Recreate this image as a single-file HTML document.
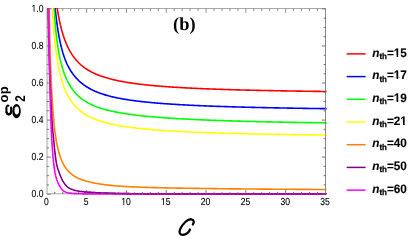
<!DOCTYPE html><html><head><meta charset="utf-8"><style>html,body{margin:0;padding:0;background:#fff}</style></head><body><div style="will-change:transform;width:415px;height:245px"><svg width="415" height="245" viewBox="0 0 415 245" style="display:block" text-rendering="geometricPrecision"><rect width="415" height="245" fill="#fff" stroke="none"/><defs><clipPath id="cp"><rect x="46.75" y="8.00" width="280.05" height="187.20"/></clipPath><clipPath id="cp2"><rect x="84" y="180" width="250" height="20"/></clipPath></defs><rect x="47.05" y="8.60" width="278.45" height="185.20" fill="none" stroke="#999" stroke-width="0.85"/><g clip-path="url(#cp)" fill="none" stroke-linejoin="round"><path d="M51.76,-46.19 L51.82,-45.25 L51.87,-44.33 L51.93,-43.42 L51.99,-42.53 L52.05,-41.64 L52.11,-40.76 L52.17,-39.89 L52.23,-39.04 L52.29,-38.19 L52.35,-37.36 L52.41,-36.53 L52.47,-35.71 L52.53,-34.91 L52.59,-34.11 L52.65,-33.32 L52.71,-32.54 L52.77,-31.77 L52.83,-31.01 L52.89,-30.25 L52.94,-29.51 L53.00,-28.77 L53.06,-28.04 L53.12,-27.32 L53.18,-26.61 L53.24,-25.90 L53.30,-25.21 L53.36,-24.52 L53.42,-23.83 L53.48,-23.16 L53.54,-22.49 L53.60,-21.83 L53.66,-21.17 L53.72,-20.53 L53.78,-19.89 L53.84,-19.25 L53.90,-18.63 L53.96,-18.00 L54.01,-17.39 L54.07,-16.78 L54.13,-16.18 L54.19,-15.58 L54.25,-14.99 L54.31,-14.41 L54.37,-13.83 L54.43,-13.26 L54.49,-12.69 L54.55,-12.13 L54.61,-11.57 L54.67,-11.02 L54.73,-10.48 L54.79,-9.93 L54.85,-9.40 L54.91,-8.87 L54.97,-8.34 L55.03,-7.82 L55.09,-7.31 L55.14,-6.80 L55.20,-6.29 L55.26,-5.79 L55.32,-5.30 L55.38,-4.80 L55.44,-4.32 L55.50,-3.84 L55.56,-3.36 L55.62,-2.88 L55.68,-2.41 L55.74,-1.95 L55.80,-1.49 L55.86,-1.03 L55.92,-0.58 L55.98,-0.13 L56.04,0.32 L56.10,0.76 L56.16,1.20 L56.21,1.63 L56.27,2.06 L56.33,2.49 L56.39,2.91 L56.45,3.33 L56.51,3.74 L56.57,4.16 L56.63,4.57 L56.69,4.97 L56.75,5.37 L56.81,5.77 L56.87,6.16 L56.93,6.56 L56.99,6.95 L57.05,7.33 L57.11,7.71 L57.17,8.09 L57.23,8.47 L57.28,8.84 L57.34,9.21 L57.40,9.58 L57.46,9.94 L57.52,10.30 L57.58,10.66 L57.64,11.02 L57.70,11.37 L57.76,11.72 L57.82,12.06 L57.88,12.41 L57.94,12.75 L58.00,13.09 L58.06,13.43 L58.12,13.76 L58.18,14.09 L58.24,14.42 L58.30,14.75 L58.35,15.07 L58.41,15.39 L58.47,15.71 L58.53,16.03 L58.59,16.34 L58.65,16.65 L58.71,16.96 L58.77,17.27 L58.83,17.57 L58.89,17.88 L58.95,18.18 L59.01,18.48 L59.07,18.77 L59.13,19.07 L59.19,19.36 L59.25,19.65 L59.31,19.94 L59.37,20.22 L59.42,20.50 L59.48,20.79 L59.54,21.07 L59.60,21.34 L59.66,21.62 L59.72,21.89 L59.78,22.16 L59.84,22.43 L59.90,22.70 L59.96,22.97 L60.02,23.23 L60.08,23.49 L60.14,23.76 L60.20,24.01 L60.26,24.27 L60.32,24.53 L60.38,24.78 L60.44,25.03 L60.50,25.28 L60.55,25.53 L60.61,25.78 L60.67,26.02 L60.73,26.27 L60.79,26.51 L60.85,26.75 L60.91,26.99 L60.97,27.23 L61.03,27.46 L61.09,27.70 L61.15,27.93 L61.21,28.16 L61.27,28.39 L61.33,28.62 L61.39,28.84 L61.45,29.07 L61.51,29.29 L61.57,29.52 L61.62,29.74 L61.68,29.96 L61.74,30.18 L61.80,30.39 L61.86,30.61 L61.92,30.82 L61.98,31.03 L62.04,31.25 L62.10,31.46 L62.16,31.67 L62.22,31.87 L62.28,32.08 L62.34,32.28 L62.40,32.49 L62.46,32.69 L62.52,32.89 L62.58,33.09 L62.64,33.29 L62.69,33.49 L62.75,33.68 L62.81,33.88 L62.87,34.07 L62.93,34.27 L62.99,34.46 L63.05,34.65 L63.11,34.84 L63.17,35.03 L63.22,35.22 L63.28,35.40 L63.34,35.59 L63.40,35.77 L63.46,35.95 L63.52,36.14 L63.58,36.32 L63.64,36.50 L63.69,36.68 L63.75,36.85 L63.81,37.03 L63.87,37.21 L63.93,37.38 L63.99,37.55 L64.05,37.73 L64.11,37.90 L64.16,38.07 L64.22,38.24 L64.28,38.41 L64.34,38.58 L64.40,38.74 L64.46,38.91 L64.52,39.08 L64.58,39.24 L64.63,39.40 L64.69,39.57 L64.75,39.73 L64.81,39.89 L64.87,40.05 L64.93,40.21 L64.99,40.36 L65.05,40.52 L65.10,40.68 L65.16,40.83 L65.22,40.99 L65.28,41.14 L65.34,41.30 L65.40,41.45 L65.46,41.60 L65.52,41.75 L65.57,41.90 L65.63,42.05 L65.69,42.20 L65.75,42.34 L65.81,42.49 L65.87,42.64 L65.93,42.78 L65.99,42.93 L66.05,43.07 L66.10,43.21 L66.16,43.35 L66.22,43.50 L66.28,43.64 L66.34,43.78 L66.40,43.92 L66.46,44.05 L66.52,44.19 L66.58,44.33 L66.63,44.47 L66.69,44.60 L66.75,44.74 L66.81,44.87 L66.87,45.01 L66.93,45.14 L66.99,45.27 L67.05,45.40 L67.11,45.53 L67.16,45.66 L67.22,45.79 L67.28,45.92 L67.34,46.05 L67.40,46.18 L67.46,46.31 L67.52,46.43 L67.58,46.56 L67.64,46.68 L67.69,46.81 L67.75,46.93 L67.81,47.06 L67.87,47.18 L67.93,47.30 L67.99,47.42 L68.05,47.55 L68.11,47.67 L68.17,47.79 L68.23,47.91 L68.28,48.02 L68.34,48.14 L68.40,48.26 L68.46,48.38 L68.52,48.49 L68.58,48.61 L68.64,48.73 L68.70,48.84 L68.76,48.96 L68.81,49.07 L68.87,49.18 L68.93,49.30 L68.99,49.41 L69.05,49.52 L69.11,49.63 L69.17,49.74 L69.23,49.85 L69.29,49.96 L69.35,50.07 L69.40,50.18 L69.46,50.29 L69.52,50.40 L69.58,50.50 L69.64,50.61 L69.70,50.72 L69.76,50.82 L69.82,50.93 L69.88,51.03 L69.94,51.14 L69.99,51.24 L70.05,51.34 L70.11,51.45 L70.17,51.55 L70.23,51.65 L70.29,51.75 L70.35,51.86 L70.41,51.96 L70.47,52.06 L70.53,52.16 L70.59,52.26 L70.64,52.35 L70.70,52.45 L71.55,53.83 L72.41,55.12 L73.26,56.34 L74.11,57.49 L74.96,58.58 L75.80,59.61 L76.64,60.58 L77.48,61.51 L78.32,62.39 L79.17,63.23 L80.01,64.02 L80.85,64.79 L81.70,65.51 L82.54,66.20 L83.39,66.87 L84.24,67.50 L85.08,68.11 L85.93,68.69 L86.78,69.25 L87.63,69.79 L88.48,70.31 L89.34,70.80 L90.20,71.28 L91.05,71.74 L91.91,72.18 L92.77,72.61 L93.63,73.02 L94.48,73.42 L95.34,73.81 L96.20,74.18 L97.05,74.54 L97.91,74.89 L98.77,75.22 L99.63,75.55 L100.48,75.87 L101.34,76.17 L102.20,76.47 L103.05,76.76 L103.91,77.04 L104.77,77.31 L105.63,77.57 L106.48,77.83 L107.34,78.08 L108.20,78.32 L109.06,78.56 L109.91,78.79 L110.77,79.01 L111.63,79.23 L112.48,79.44 L113.34,79.65 L114.20,79.85 L115.06,80.05 L115.91,80.24 L116.77,80.43 L117.63,80.61 L118.48,80.79 L119.34,80.96 L120.20,81.13 L121.06,81.30 L121.91,81.46 L122.77,81.62 L123.63,81.77 L124.49,81.92 L125.34,82.07 L126.20,82.22 L127.06,82.36 L127.91,82.50 L128.77,82.63 L129.63,82.77 L130.49,82.90 L131.34,83.02 L132.20,83.15 L133.06,83.27 L133.92,83.39 L134.77,83.51 L135.63,83.62 L136.49,83.74 L137.34,83.85 L138.20,83.96 L139.06,84.06 L139.92,84.17 L140.77,84.27 L141.63,84.37 L142.49,84.47 L143.34,84.57 L144.20,84.67 L145.06,84.76 L145.92,84.85 L146.77,84.94 L147.63,85.03 L148.49,85.12 L149.35,85.21 L150.20,85.29 L151.06,85.37 L151.92,85.46 L152.77,85.54 L153.63,85.62 L154.49,85.69 L155.35,85.77 L156.20,85.85 L157.06,85.92 L157.92,85.99 L158.77,86.07 L159.63,86.14 L160.49,86.21 L161.35,86.27 L162.20,86.34 L163.06,86.41 L163.92,86.47 L164.78,86.54 L165.63,86.60 L166.49,86.67 L167.35,86.73 L168.20,86.79 L169.06,86.85 L169.92,86.91 L170.78,86.97 L171.63,87.02 L172.49,87.08 L173.35,87.14 L174.20,87.19 L175.06,87.24 L175.92,87.30 L176.78,87.35 L177.63,87.40 L178.49,87.46 L179.35,87.51 L180.21,87.56 L181.06,87.61 L181.92,87.65 L182.78,87.70 L183.63,87.75 L184.49,87.80 L185.35,87.84 L186.21,87.89 L187.06,87.93 L187.92,87.98 L188.78,88.02 L189.64,88.07 L190.49,88.11 L191.35,88.15 L192.21,88.19 L193.06,88.23 L193.92,88.28 L194.78,88.32 L195.64,88.36 L196.49,88.40 L197.35,88.43 L198.21,88.47 L199.06,88.51 L199.92,88.55 L200.78,88.59 L201.64,88.62 L202.49,88.66 L203.35,88.70 L204.21,88.73 L205.07,88.77 L205.92,88.80 L206.78,88.84 L207.64,88.87 L208.49,88.90 L209.35,88.94 L210.21,88.97 L211.07,89.00 L211.92,89.03 L212.78,89.07 L213.64,89.10 L214.49,89.13 L215.35,89.16 L216.21,89.19 L217.07,89.22 L217.92,89.25 L218.78,89.28 L219.64,89.31 L220.50,89.34 L221.35,89.37 L222.21,89.39 L223.07,89.42 L223.92,89.45 L224.78,89.48 L225.64,89.50 L226.50,89.53 L227.35,89.56 L228.21,89.58 L229.07,89.61 L229.92,89.64 L230.78,89.66 L231.64,89.69 L232.50,89.71 L233.35,89.74 L234.21,89.76 L235.07,89.79 L235.93,89.81 L236.78,89.84 L237.64,89.86 L238.50,89.88 L239.35,89.91 L240.21,89.93 L241.07,89.95 L241.93,89.97 L242.78,90.00 L243.64,90.02 L244.50,90.04 L245.36,90.06 L246.21,90.09 L247.07,90.11 L247.93,90.13 L248.78,90.15 L249.64,90.17 L250.50,90.19 L251.36,90.21 L252.21,90.23 L253.07,90.25 L253.93,90.27 L254.78,90.29 L255.64,90.31 L256.50,90.33 L257.36,90.35 L258.21,90.37 L259.07,90.39 L259.93,90.41 L260.79,90.43 L261.64,90.44 L262.50,90.46 L263.36,90.48 L264.21,90.50 L265.07,90.52 L265.93,90.54 L266.79,90.55 L267.64,90.57 L268.50,90.59 L269.36,90.60 L270.21,90.62 L271.07,90.64 L271.93,90.66 L272.79,90.67 L273.64,90.69 L274.50,90.71 L275.36,90.72 L276.22,90.74 L277.07,90.75 L277.93,90.77 L278.79,90.79 L279.64,90.80 L280.50,90.82 L281.36,90.83 L282.22,90.85 L283.07,90.86 L283.93,90.88 L284.79,90.89 L285.64,90.91 L286.50,90.92 L287.36,90.94 L288.22,90.95 L289.07,90.97 L289.93,90.98 L290.79,90.99 L291.65,91.01 L292.50,91.02 L293.36,91.04 L294.22,91.05 L295.07,91.06 L295.93,91.08 L296.79,91.09 L297.65,91.10 L298.50,91.12 L299.36,91.13 L300.22,91.14 L301.08,91.16 L301.93,91.17 L302.79,91.18 L303.65,91.20 L304.50,91.21 L305.36,91.22 L306.22,91.23 L307.08,91.25 L307.93,91.26 L308.79,91.27 L309.65,91.28 L310.50,91.29 L311.36,91.31 L312.22,91.32 L313.08,91.33 L313.93,91.34 L314.79,91.35 L315.65,91.36 L316.51,91.38 L317.36,91.39 L318.22,91.40 L319.08,91.41 L319.93,91.42 L320.79,91.43 L321.65,91.44 L322.51,91.45 L323.36,91.47 L324.22,91.48 L325.08,91.49 L325.93,91.50 L326.79,91.51" stroke="#ff0000" stroke-width="1.6"/><path d="M51.60,-46.14 L51.66,-44.77 L51.72,-43.41 L51.77,-42.09 L51.83,-40.78 L51.89,-39.49 L51.95,-38.23 L52.01,-36.99 L52.07,-35.77 L52.13,-34.56 L52.19,-33.38 L52.25,-32.21 L52.31,-31.07 L52.37,-29.94 L52.43,-28.83 L52.49,-27.73 L52.55,-26.65 L52.61,-25.59 L52.67,-24.55 L52.73,-23.52 L52.79,-22.50 L52.84,-21.50 L52.90,-20.52 L52.96,-19.55 L53.02,-18.59 L53.08,-17.65 L53.14,-16.72 L53.20,-15.80 L53.26,-14.90 L53.32,-14.00 L53.38,-13.13 L53.44,-12.26 L53.50,-11.40 L53.56,-10.56 L53.62,-9.73 L53.68,-8.90 L53.74,-8.09 L53.80,-7.29 L53.86,-6.50 L53.91,-5.73 L53.97,-4.96 L54.03,-4.20 L54.09,-3.45 L54.15,-2.71 L54.21,-1.98 L54.27,-1.25 L54.33,-0.54 L54.39,0.16 L54.45,0.86 L54.51,1.54 L54.57,2.22 L54.63,2.89 L54.69,3.56 L54.75,4.21 L54.81,4.86 L54.87,5.50 L54.93,6.13 L54.99,6.75 L55.04,7.37 L55.10,7.98 L55.17,8.58 L55.23,9.18 L55.29,9.77 L55.35,10.35 L55.41,10.93 L55.47,11.50 L55.54,12.06 L55.60,12.62 L55.66,13.17 L55.72,13.71 L55.78,14.25 L55.84,14.78 L55.90,15.31 L55.97,15.83 L56.03,16.35 L56.09,16.86 L56.15,17.37 L56.21,17.87 L56.27,18.36 L56.33,18.85 L56.40,19.34 L56.46,19.82 L56.52,20.29 L56.58,20.77 L56.64,21.23 L56.70,21.69 L56.76,22.15 L56.82,22.60 L56.89,23.05 L56.95,23.49 L57.01,23.93 L57.07,24.36 L57.13,24.79 L57.19,25.22 L57.25,25.64 L57.31,26.06 L57.37,26.47 L57.44,26.88 L57.50,27.29 L57.56,27.69 L57.62,28.09 L57.68,28.49 L57.74,28.88 L57.80,29.27 L57.86,29.65 L57.92,30.03 L57.98,30.41 L58.05,30.78 L58.11,31.15 L58.17,31.52 L58.23,31.88 L58.29,32.24 L58.35,32.60 L58.41,32.96 L58.47,33.31 L58.53,33.66 L58.59,34.00 L58.65,34.34 L58.71,34.68 L58.77,35.02 L58.83,35.35 L58.89,35.68 L58.95,36.01 L59.01,36.33 L59.07,36.66 L59.13,36.98 L59.19,37.29 L59.25,37.61 L59.31,37.92 L59.37,38.23 L59.42,38.53 L59.48,38.84 L59.54,39.14 L59.60,39.44 L59.66,39.74 L59.72,40.03 L59.78,40.32 L59.84,40.61 L59.90,40.90 L59.96,41.19 L60.02,41.47 L60.08,41.75 L60.14,42.03 L60.20,42.30 L60.26,42.58 L60.32,42.85 L60.38,43.12 L60.44,43.39 L60.50,43.65 L60.55,43.92 L60.61,44.18 L60.67,44.44 L60.73,44.70 L60.79,44.95 L60.85,45.21 L60.91,45.46 L60.97,45.71 L61.03,45.96 L61.09,46.20 L61.15,46.45 L61.21,46.69 L61.27,46.93 L61.33,47.17 L61.39,47.41 L61.45,47.65 L61.51,47.88 L61.57,48.11 L61.62,48.34 L61.68,48.57 L61.74,48.80 L61.80,49.03 L61.86,49.25 L61.92,49.47 L61.98,49.70 L62.04,49.92 L62.10,50.13 L62.16,50.35 L62.22,50.57 L62.28,50.78 L62.34,50.99 L62.40,51.20 L62.46,51.41 L62.52,51.62 L62.58,51.83 L62.64,52.03 L62.69,52.24 L62.75,52.44 L62.81,52.64 L62.87,52.84 L62.93,53.04 L62.99,53.24 L63.05,53.43 L63.11,53.63 L63.17,53.82 L63.23,54.01 L63.29,54.20 L63.35,54.39 L63.41,54.58 L63.47,54.77 L63.53,54.96 L63.59,55.14 L63.65,55.32 L63.71,55.51 L63.76,55.69 L63.82,55.87 L63.88,56.05 L63.94,56.23 L64.00,56.40 L64.06,56.58 L64.12,56.75 L64.18,56.93 L64.24,57.10 L64.30,57.27 L64.36,57.44 L64.42,57.61 L64.48,57.78 L64.54,57.95 L64.60,58.11 L64.66,58.28 L64.72,58.44 L64.78,58.61 L64.83,58.77 L64.89,58.93 L64.95,59.09 L65.01,59.25 L65.07,59.41 L65.13,59.56 L65.19,59.72 L65.25,59.88 L65.31,60.03 L65.37,60.19 L65.44,60.34 L65.50,60.49 L65.56,60.64 L65.62,60.79 L65.69,60.94 L65.75,61.09 L65.81,61.24 L65.87,61.39 L65.94,61.53 L66.00,61.68 L66.06,61.82 L66.12,61.97 L66.19,62.11 L66.25,62.25 L66.31,62.39 L66.37,62.53 L66.44,62.67 L66.50,62.81 L66.56,62.95 L66.62,63.09 L66.69,63.22 L66.75,63.36 L66.81,63.49 L66.87,63.63 L66.93,63.76 L67.00,63.89 L67.06,64.03 L67.12,64.16 L67.18,64.29 L67.25,64.42 L67.31,64.55 L67.37,64.68 L67.43,64.81 L67.49,64.93 L67.56,65.06 L67.62,65.19 L67.68,65.31 L67.74,65.44 L67.80,65.56 L67.87,65.68 L67.93,65.81 L67.99,65.93 L68.05,66.05 L68.11,66.17 L68.18,66.29 L68.24,66.41 L68.30,66.53 L68.36,66.65 L68.42,66.77 L68.49,66.88 L68.55,67.00 L68.61,67.12 L68.67,67.23 L68.73,67.35 L68.80,67.46 L68.86,67.57 L68.92,67.69 L68.98,67.80 L69.04,67.91 L69.10,68.02 L69.17,68.13 L69.23,68.24 L69.29,68.35 L69.35,68.46 L69.41,68.57 L69.47,68.68 L69.54,68.79 L69.60,68.89 L69.66,69.00 L69.72,69.11 L69.78,69.21 L69.84,69.32 L69.91,69.42 L69.97,69.53 L70.03,69.63 L70.09,69.73 L70.15,69.84 L70.21,69.94 L70.28,70.04 L70.34,70.14 L70.40,70.24 L70.46,70.34 L70.52,70.44 L70.58,70.54 L70.64,70.64 L70.71,70.74 L70.77,70.83 L70.83,70.93 L70.89,71.03 L70.95,71.13 L71.01,71.22 L71.90,72.56 L72.78,73.81 L73.66,74.99 L74.54,76.10 L75.42,77.14 L76.30,78.13 L77.18,79.06 L78.05,79.95 L78.93,80.79 L79.80,81.58 L80.67,82.34 L81.55,83.06 L82.42,83.75 L83.27,84.41 L84.10,85.03 L84.93,85.63 L85.77,86.21 L86.61,86.76 L87.44,87.29 L88.28,87.79 L89.12,88.28 L89.96,88.75 L90.80,89.20 L91.64,89.63 L92.48,90.05 L93.33,90.45 L94.17,90.84 L95.01,91.22 L95.86,91.58 L96.70,91.93 L97.54,92.27 L98.37,92.60 L99.21,92.91 L100.05,93.22 L100.89,93.52 L101.73,93.81 L102.57,94.09 L103.41,94.36 L104.25,94.62 L105.09,94.88 L105.93,95.13 L106.77,95.37 L107.62,95.60 L108.46,95.83 L109.30,96.06 L110.15,96.27 L110.99,96.48 L111.83,96.69 L112.68,96.89 L113.52,97.09 L114.37,97.28 L115.21,97.46 L116.06,97.64 L116.91,97.82 L117.75,97.99 L118.60,98.16 L119.45,98.33 L120.29,98.49 L121.14,98.65 L121.99,98.80 L122.84,98.95 L123.68,99.10 L124.53,99.24 L125.38,99.38 L126.23,99.52 L127.08,99.66 L127.93,99.79 L128.78,99.92 L129.63,100.05 L130.49,100.17 L131.34,100.29 L132.20,100.41 L133.06,100.53 L133.92,100.64 L134.77,100.76 L135.63,100.87 L136.49,100.98 L137.34,101.08 L138.20,101.19 L139.06,101.29 L139.92,101.39 L140.77,101.49 L141.63,101.59 L142.49,101.68 L143.34,101.78 L144.20,101.87 L145.06,101.96 L145.92,102.05 L146.77,102.13 L147.63,102.22 L148.49,102.31 L149.35,102.39 L150.20,102.47 L151.06,102.55 L151.92,102.63 L152.77,102.71 L153.63,102.78 L154.49,102.86 L155.35,102.93 L156.20,103.01 L157.06,103.08 L157.92,103.15 L158.77,103.22 L159.63,103.29 L160.49,103.36 L161.35,103.42 L162.20,103.49 L163.06,103.55 L163.92,103.62 L164.78,103.68 L165.63,103.74 L166.49,103.80 L167.35,103.87 L168.20,103.92 L169.06,103.98 L169.92,104.04 L170.78,104.10 L171.63,104.15 L172.49,104.21 L173.35,104.26 L174.20,104.32 L175.06,104.37 L175.92,104.42 L176.78,104.48 L177.63,104.53 L178.49,104.58 L179.35,104.63 L180.21,104.68 L181.06,104.73 L181.92,104.77 L182.78,104.82 L183.63,104.87 L184.49,104.92 L185.35,104.96 L186.21,105.01 L187.06,105.05 L187.92,105.09 L188.78,105.14 L189.64,105.18 L190.49,105.22 L191.35,105.27 L192.21,105.31 L193.06,105.35 L193.92,105.39 L194.78,105.43 L195.64,105.47 L196.49,105.51 L197.35,105.55 L198.21,105.58 L199.06,105.62 L199.92,105.66 L200.78,105.70 L201.64,105.73 L202.49,105.77 L203.35,105.81 L204.21,105.84 L205.07,105.88 L205.92,105.91 L206.78,105.95 L207.64,105.98 L208.49,106.01 L209.35,106.05 L210.21,106.08 L211.07,106.11 L211.92,106.14 L212.78,106.18 L213.64,106.21 L214.49,106.24 L215.35,106.27 L216.21,106.30 L217.07,106.33 L217.92,106.36 L218.78,106.39 L219.64,106.42 L220.50,106.45 L221.35,106.48 L222.21,106.51 L223.07,106.53 L223.92,106.56 L224.78,106.59 L225.64,106.62 L226.50,106.64 L227.35,106.67 L228.21,106.70 L229.07,106.72 L229.92,106.75 L230.78,106.78 L231.64,106.80 L232.50,106.83 L233.35,106.85 L234.21,106.88 L235.07,106.90 L235.93,106.93 L236.78,106.95 L237.64,106.98 L238.50,107.00 L239.35,107.02 L240.21,107.05 L241.07,107.07 L241.93,107.09 L242.78,107.12 L243.64,107.14 L244.50,107.16 L245.36,107.18 L246.21,107.21 L247.07,107.23 L247.93,107.25 L248.78,107.27 L249.64,107.29 L250.50,107.31 L251.36,107.33 L252.21,107.36 L253.07,107.38 L253.93,107.40 L254.78,107.42 L255.64,107.44 L256.50,107.46 L257.36,107.48 L258.21,107.50 L259.07,107.52 L259.93,107.54 L260.79,107.55 L261.64,107.57 L262.50,107.59 L263.36,107.61 L264.21,107.63 L265.07,107.65 L265.93,107.67 L266.79,107.68 L267.64,107.70 L268.50,107.72 L269.36,107.74 L270.21,107.76 L271.07,107.77 L271.93,107.79 L272.79,107.81 L273.64,107.82 L274.50,107.84 L275.36,107.86 L276.22,107.87 L277.07,107.89 L277.93,107.91 L278.79,107.92 L279.64,107.94 L280.50,107.96 L281.36,107.97 L282.22,107.99 L283.07,108.00 L283.93,108.02 L284.79,108.04 L285.64,108.05 L286.50,108.07 L287.36,108.08 L288.22,108.10 L289.07,108.11 L289.93,108.13 L290.79,108.14 L291.65,108.16 L292.50,108.17 L293.36,108.18 L294.22,108.20 L295.07,108.21 L295.93,108.23 L296.79,108.24 L297.65,108.25 L298.50,108.27 L299.36,108.28 L300.22,108.30 L301.08,108.31 L301.93,108.32 L302.79,108.34 L303.65,108.35 L304.50,108.36 L305.36,108.38 L306.22,108.39 L307.08,108.40 L307.93,108.41 L308.79,108.43 L309.65,108.44 L310.50,108.45 L311.36,108.47 L312.22,108.48 L313.08,108.49 L313.93,108.50 L314.79,108.51 L315.65,108.53 L316.51,108.54 L317.36,108.55 L318.22,108.56 L319.08,108.57 L319.93,108.59 L320.79,108.60 L321.65,108.61 L322.51,108.62 L323.36,108.63 L324.22,108.64 L325.08,108.66 L325.93,108.67 L326.79,108.68" stroke="#0000ff" stroke-width="1.6"/><path d="M51.80,-45.58 L51.86,-43.57 L51.92,-41.60 L51.97,-39.68 L52.03,-37.81 L52.09,-35.98 L52.15,-34.20 L52.21,-32.45 L52.27,-30.75 L52.33,-29.08 L52.39,-27.45 L52.45,-25.86 L52.51,-24.30 L52.57,-22.77 L52.63,-21.28 L52.69,-19.82 L52.75,-18.39 L52.81,-16.98 L52.87,-15.61 L52.93,-14.26 L52.99,-12.94 L53.04,-11.65 L53.10,-10.38 L53.16,-9.14 L53.22,-7.91 L53.28,-6.72 L53.34,-5.54 L53.40,-4.39 L53.46,-3.26 L53.52,-2.14 L53.58,-1.05 L53.64,0.02 L53.70,1.07 L53.76,2.11 L53.82,3.13 L53.88,4.13 L53.94,5.11 L54.00,6.08 L54.06,7.03 L54.11,7.96 L54.17,8.88 L54.23,9.78 L54.28,10.67 L54.34,11.55 L54.40,12.41 L54.45,13.26 L54.51,14.09 L54.56,14.92 L54.62,15.73 L54.68,16.52 L54.73,17.31 L54.79,18.08 L54.85,18.84 L54.90,19.59 L54.96,20.33 L55.02,21.06 L55.07,21.78 L55.13,22.49 L55.19,23.19 L55.24,23.87 L55.30,24.55 L55.36,25.22 L55.41,25.88 L55.47,26.53 L55.53,27.18 L55.58,27.81 L55.64,28.43 L55.70,29.05 L55.76,29.66 L55.81,30.26 L55.87,30.85 L55.93,31.44 L55.98,32.02 L56.04,32.59 L56.10,33.15 L56.16,33.71 L56.22,34.25 L56.28,34.80 L56.34,35.33 L56.41,35.86 L56.47,36.38 L56.53,36.90 L56.60,37.41 L56.66,37.91 L56.72,38.41 L56.79,38.90 L56.85,39.39 L56.91,39.87 L56.98,40.35 L57.04,40.82 L57.10,41.28 L57.17,41.74 L57.23,42.19 L57.29,42.64 L57.35,43.09 L57.42,43.52 L57.48,43.96 L57.54,44.39 L57.61,44.81 L57.67,45.23 L57.73,45.65 L57.79,46.06 L57.86,46.47 L57.92,46.87 L57.98,47.27 L58.04,47.66 L58.11,48.05 L58.17,48.43 L58.23,48.82 L58.29,49.19 L58.36,49.57 L58.42,49.94 L58.48,50.30 L58.54,50.67 L58.60,51.03 L58.67,51.38 L58.73,51.73 L58.79,52.08 L58.85,52.43 L58.92,52.77 L58.98,53.11 L59.04,53.44 L59.10,53.78 L59.16,54.11 L59.23,54.43 L59.29,54.75 L59.35,55.07 L59.41,55.39 L59.47,55.70 L59.53,56.02 L59.60,56.32 L59.66,56.63 L59.72,56.93 L59.78,57.23 L59.84,57.53 L59.91,57.82 L59.97,58.11 L60.03,58.40 L60.09,58.69 L60.15,58.97 L60.21,59.25 L60.28,59.53 L60.34,59.81 L60.40,60.08 L60.46,60.36 L60.52,60.63 L60.59,60.89 L60.65,61.16 L60.71,61.42 L60.78,61.68 L60.84,61.94 L60.90,62.20 L60.96,62.45 L61.03,62.70 L61.09,62.95 L61.15,63.20 L61.21,63.45 L61.28,63.69 L61.34,63.93 L61.40,64.17 L61.46,64.41 L61.53,64.65 L61.59,64.88 L61.65,65.11 L61.71,65.34 L61.78,65.57 L61.84,65.80 L61.90,66.02 L61.96,66.25 L62.02,66.47 L62.09,66.69 L62.15,66.91 L62.21,67.12 L62.27,67.34 L62.34,67.55 L62.40,67.76 L62.46,67.97 L62.52,68.18 L62.58,68.39 L62.65,68.59 L62.71,68.80 L62.77,69.00 L62.83,69.20 L62.89,69.40 L62.96,69.60 L63.02,69.80 L63.08,69.99 L63.14,70.18 L63.20,70.38 L63.26,70.57 L63.33,70.76 L63.39,70.95 L63.45,71.13 L63.51,71.32 L63.57,71.50 L63.64,71.69 L63.70,71.87 L63.76,72.05 L63.82,72.23 L63.88,72.41 L63.94,72.58 L64.01,72.76 L64.07,72.93 L64.13,73.11 L64.19,73.28 L64.25,73.45 L64.31,73.62 L64.37,73.79 L64.44,73.95 L64.50,74.12 L64.56,74.29 L64.62,74.45 L64.68,74.61 L64.74,74.78 L64.81,74.94 L64.87,75.10 L64.93,75.26 L64.99,75.41 L65.05,75.57 L65.11,75.73 L65.17,75.88 L65.24,76.03 L65.30,76.19 L65.36,76.34 L65.42,76.49 L65.48,76.64 L65.54,76.79 L65.60,76.94 L65.66,77.09 L65.73,77.23 L65.79,77.38 L65.85,77.52 L65.91,77.67 L65.97,77.81 L66.03,77.95 L66.09,78.09 L66.15,78.23 L66.22,78.37 L66.28,78.51 L66.34,78.65 L66.40,78.78 L66.46,78.92 L66.52,79.05 L66.58,79.19 L66.64,79.32 L66.70,79.46 L66.77,79.59 L66.83,79.72 L66.89,79.85 L66.95,79.98 L67.01,80.11 L67.07,80.24 L67.13,80.36 L67.19,80.49 L67.25,80.62 L67.32,80.74 L67.38,80.87 L67.44,80.99 L67.50,81.11 L67.56,81.24 L67.62,81.36 L67.68,81.48 L67.74,81.60 L67.80,81.72 L67.86,81.84 L67.93,81.96 L67.99,82.07 L68.05,82.19 L68.11,82.31 L68.17,82.42 L68.23,82.54 L68.29,82.65 L68.35,82.77 L68.41,82.88 L68.47,82.99 L68.53,83.11 L68.59,83.22 L68.66,83.33 L68.72,83.44 L68.78,83.55 L68.84,83.66 L68.90,83.77 L68.96,83.87 L69.02,83.98 L69.08,84.09 L69.14,84.20 L69.20,84.30 L69.25,84.41 L69.31,84.51 L69.37,84.62 L69.43,84.72 L69.49,84.82 L69.54,84.92 L69.60,85.03 L69.66,85.13 L69.72,85.23 L69.78,85.33 L69.84,85.43 L69.89,85.53 L69.95,85.63 L70.01,85.73 L70.07,85.82 L70.13,85.92 L70.18,86.02 L70.24,86.12 L70.30,86.21 L70.36,86.31 L70.42,86.40 L70.48,86.50 L70.53,86.59 L70.59,86.68 L70.65,86.78 L70.71,86.87 L70.77,86.96 L70.83,87.05 L70.88,87.15 L70.94,87.24 L71.00,87.33 L71.06,87.42 L71.12,87.51 L71.18,87.60 L71.23,87.69 L72.08,88.92 L72.92,90.08 L73.76,91.16 L74.61,92.18 L75.45,93.14 L76.30,94.05 L77.14,94.90 L77.99,95.71 L78.84,96.48 L79.69,97.21 L80.54,97.91 L81.38,98.57 L82.23,99.20 L83.08,99.80 L83.92,100.37 L84.75,100.92 L85.58,101.45 L86.41,101.95 L87.25,102.44 L88.08,102.90 L88.91,103.35 L89.75,103.78 L90.59,104.19 L91.42,104.59 L92.26,104.97 L93.10,105.34 L93.94,105.70 L94.78,106.05 L95.62,106.38 L96.46,106.70 L97.30,107.02 L98.15,107.32 L98.99,107.61 L99.83,107.90 L100.67,108.17 L101.52,108.44 L102.36,108.70 L103.21,108.95 L104.05,109.19 L104.90,109.43 L105.74,109.66 L106.59,109.89 L107.44,110.11 L108.28,110.32 L109.13,110.53 L109.98,110.73 L110.82,110.93 L111.67,111.12 L112.52,111.31 L113.37,111.49 L114.22,111.67 L115.06,111.85 L115.91,112.02 L116.77,112.18 L117.63,112.35 L118.48,112.50 L119.34,112.66 L120.20,112.81 L121.06,112.96 L121.91,113.11 L122.77,113.25 L123.63,113.39 L124.49,113.52 L125.34,113.66 L126.20,113.79 L127.06,113.92 L127.91,114.04 L128.77,114.16 L129.63,114.29 L130.49,114.40 L131.34,114.52 L132.20,114.63 L133.06,114.75 L133.92,114.86 L134.77,114.96 L135.63,115.07 L136.49,115.17 L137.34,115.27 L138.20,115.38 L139.06,115.47 L139.92,115.57 L140.77,115.67 L141.63,115.76 L142.49,115.85 L143.34,115.94 L144.20,116.03 L145.06,116.12 L145.92,116.20 L146.77,116.29 L147.63,116.37 L148.49,116.45 L149.35,116.53 L150.20,116.61 L151.06,116.69 L151.92,116.77 L152.77,116.84 L153.63,116.92 L154.49,116.99 L155.35,117.06 L156.20,117.13 L157.06,117.20 L157.92,117.27 L158.77,117.34 L159.63,117.41 L160.49,117.47 L161.35,117.54 L162.20,117.60 L163.06,117.67 L163.92,117.73 L164.78,117.79 L165.63,117.85 L166.49,117.91 L167.35,117.97 L168.20,118.03 L169.06,118.09 L169.92,118.15 L170.78,118.20 L171.63,118.26 L172.49,118.31 L173.35,118.37 L174.20,118.42 L175.06,118.47 L175.92,118.52 L176.78,118.58 L177.63,118.63 L178.49,118.68 L179.35,118.73 L180.21,118.78 L181.06,118.82 L181.92,118.87 L182.78,118.92 L183.63,118.96 L184.49,119.01 L185.35,119.06 L186.21,119.10 L187.06,119.15 L187.92,119.19 L188.78,119.23 L189.64,119.28 L190.49,119.32 L191.35,119.36 L192.21,119.40 L193.06,119.44 L193.92,119.48 L194.78,119.52 L195.64,119.56 L196.49,119.60 L197.35,119.64 L198.21,119.68 L199.06,119.72 L199.92,119.76 L200.78,119.79 L201.64,119.83 L202.49,119.87 L203.35,119.90 L204.21,119.94 L205.07,119.97 L205.92,120.01 L206.78,120.04 L207.64,120.08 L208.49,120.11 L209.35,120.15 L210.21,120.18 L211.07,120.21 L211.92,120.25 L212.78,120.28 L213.64,120.31 L214.49,120.34 L215.35,120.37 L216.21,120.40 L217.07,120.43 L217.92,120.47 L218.78,120.50 L219.64,120.53 L220.50,120.56 L221.35,120.58 L222.21,120.61 L223.07,120.64 L223.92,120.67 L224.78,120.70 L225.64,120.73 L226.50,120.76 L227.35,120.78 L228.21,120.81 L229.07,120.84 L229.92,120.86 L230.78,120.89 L231.64,120.92 L232.50,120.94 L233.35,120.97 L234.21,121.00 L235.07,121.02 L235.93,121.05 L236.78,121.07 L237.64,121.10 L238.50,121.12 L239.35,121.15 L240.21,121.17 L241.07,121.19 L241.93,121.22 L242.78,121.24 L243.64,121.26 L244.50,121.29 L245.36,121.31 L246.21,121.33 L247.07,121.36 L247.93,121.38 L248.78,121.40 L249.64,121.42 L250.50,121.44 L251.36,121.47 L252.21,121.49 L253.07,121.51 L253.93,121.53 L254.78,121.55 L255.64,121.57 L256.50,121.59 L257.36,121.61 L258.21,121.64 L259.07,121.66 L259.93,121.68 L260.79,121.70 L261.64,121.72 L262.50,121.74 L263.36,121.75 L264.21,121.77 L265.07,121.79 L265.93,121.81 L266.79,121.83 L267.64,121.85 L268.50,121.87 L269.36,121.89 L270.21,121.91 L271.07,121.92 L271.93,121.94 L272.79,121.96 L273.64,121.98 L274.50,122.00 L275.36,122.01 L276.22,122.03 L277.07,122.05 L277.93,122.07 L278.79,122.08 L279.64,122.10 L280.50,122.12 L281.36,122.13 L282.22,122.15 L283.07,122.17 L283.93,122.18 L284.79,122.20 L285.64,122.22 L286.50,122.23 L287.36,122.25 L288.22,122.26 L289.07,122.28 L289.93,122.30 L290.79,122.31 L291.65,122.33 L292.50,122.34 L293.36,122.36 L294.22,122.37 L295.07,122.39 L295.93,122.40 L296.79,122.42 L297.65,122.43 L298.50,122.45 L299.36,122.46 L300.22,122.48 L301.08,122.49 L301.93,122.51 L302.79,122.52 L303.65,122.53 L304.50,122.55 L305.36,122.56 L306.22,122.58 L307.08,122.59 L307.93,122.60 L308.79,122.62 L309.65,122.63 L310.50,122.64 L311.36,122.66 L312.22,122.67 L313.08,122.68 L313.93,122.70 L314.79,122.71 L315.65,122.72 L316.51,122.74 L317.36,122.75 L318.22,122.76 L319.08,122.77 L319.93,122.79 L320.79,122.80 L321.65,122.81 L322.51,122.82 L323.36,122.84 L324.22,122.85 L325.08,122.86 L325.93,122.87 L326.79,122.89" stroke="#00ff00" stroke-width="1.6"/><path d="M50.01,-45.82 L50.07,-43.91 L50.13,-42.03 L50.19,-40.19 L50.25,-38.39 L50.31,-36.63 L50.37,-34.89 L50.43,-33.20 L50.49,-31.53 L50.55,-29.89 L50.61,-28.29 L50.67,-26.71 L50.73,-25.16 L50.79,-23.64 L50.85,-22.15 L50.90,-20.69 L50.96,-19.25 L51.02,-17.83 L51.08,-16.44 L51.14,-15.07 L51.20,-13.73 L51.26,-12.41 L51.32,-11.11 L51.38,-9.83 L51.44,-8.58 L51.50,-7.34 L51.56,-6.13 L51.62,-4.93 L51.68,-3.76 L51.74,-2.60 L51.80,-1.46 L51.86,-0.34 L51.92,0.77 L51.97,1.86 L52.03,2.93 L52.09,3.98 L52.15,5.02 L52.21,6.04 L52.27,7.05 L52.33,8.05 L52.39,9.02 L52.44,9.99 L52.50,10.94 L52.55,11.88 L52.61,12.80 L52.67,13.71 L52.72,14.61 L52.78,15.50 L52.83,16.37 L52.89,17.23 L52.95,18.08 L53.00,18.92 L53.06,19.74 L53.12,20.56 L53.17,21.36 L53.23,22.16 L53.28,22.94 L53.34,23.72 L53.40,24.48 L53.45,25.23 L53.51,25.98 L53.57,26.71 L53.62,27.44 L53.68,28.15 L53.74,28.86 L53.79,29.56 L53.85,30.25 L53.91,30.93 L53.96,31.60 L54.02,32.27 L54.08,32.93 L54.14,33.58 L54.19,34.22 L54.25,34.85 L54.31,35.48 L54.37,36.10 L54.43,36.71 L54.49,37.31 L54.55,37.91 L54.61,38.50 L54.67,39.09 L54.73,39.66 L54.79,40.23 L54.85,40.80 L54.91,41.36 L54.97,41.91 L55.03,42.46 L55.09,43.00 L55.14,43.53 L55.20,44.06 L55.26,44.58 L55.32,45.10 L55.38,45.61 L55.44,46.12 L55.50,46.62 L55.56,47.11 L55.62,47.60 L55.68,48.09 L55.74,48.57 L55.80,49.04 L55.86,49.51 L55.92,49.98 L55.98,50.44 L56.04,50.90 L56.10,51.35 L56.16,51.80 L56.21,52.24 L56.27,52.68 L56.33,53.11 L56.39,53.54 L56.45,53.97 L56.51,54.39 L56.57,54.80 L56.63,55.22 L56.69,55.63 L56.75,56.03 L56.81,56.43 L56.87,56.83 L56.93,57.23 L56.99,57.62 L57.05,58.00 L57.11,58.39 L57.17,58.77 L57.23,59.14 L57.28,59.51 L57.34,59.88 L57.40,60.25 L57.46,60.61 L57.52,60.97 L57.58,61.33 L57.63,61.68 L57.69,62.03 L57.75,62.38 L57.81,62.72 L57.87,63.06 L57.92,63.40 L57.98,63.73 L58.04,64.07 L58.10,64.39 L58.16,64.72 L58.21,65.04 L58.27,65.36 L58.33,65.68 L58.39,66.00 L58.45,66.31 L58.51,66.62 L58.56,66.93 L58.62,67.23 L58.68,67.53 L58.74,67.83 L58.80,68.13 L58.85,68.43 L58.91,68.72 L58.97,69.01 L59.03,69.30 L59.09,69.58 L59.15,69.87 L59.20,70.15 L59.26,70.42 L59.32,70.70 L59.38,70.98 L59.44,71.25 L59.50,71.52 L59.55,71.79 L59.61,72.05 L59.67,72.31 L59.73,72.58 L59.79,72.84 L59.85,73.09 L59.90,73.35 L59.96,73.60 L60.02,73.86 L60.08,74.11 L60.14,74.35 L60.20,74.60 L60.25,74.84 L60.31,75.09 L60.37,75.33 L60.43,75.57 L60.49,75.80 L60.55,76.04 L60.61,76.27 L60.66,76.50 L60.72,76.73 L60.78,76.96 L60.84,77.19 L60.90,77.42 L60.96,77.64 L61.02,77.86 L61.07,78.08 L61.13,78.30 L61.19,78.52 L61.25,78.74 L61.31,78.95 L61.37,79.16 L61.42,79.37 L61.48,79.58 L61.54,79.79 L61.60,80.00 L61.66,80.21 L61.72,80.41 L61.78,80.61 L61.84,80.81 L61.89,81.01 L61.95,81.21 L62.01,81.41 L62.07,81.61 L62.13,81.80 L62.19,82.00 L62.25,82.19 L62.30,82.38 L62.36,82.57 L62.42,82.76 L62.48,82.94 L62.54,83.13 L62.60,83.32 L62.66,83.50 L62.71,83.68 L62.77,83.86 L62.83,84.04 L62.89,84.22 L62.96,84.40 L63.02,84.58 L63.08,84.75 L63.14,84.93 L63.20,85.10 L63.26,85.27 L63.33,85.44 L63.39,85.61 L63.45,85.78 L63.51,85.95 L63.57,86.12 L63.63,86.28 L63.70,86.45 L63.76,86.61 L63.82,86.77 L63.88,86.94 L63.94,87.10 L64.00,87.26 L64.06,87.41 L64.13,87.57 L64.19,87.73 L64.25,87.89 L64.31,88.04 L64.37,88.19 L64.43,88.35 L64.49,88.50 L64.56,88.65 L64.62,88.80 L64.68,88.95 L64.74,89.10 L64.80,89.25 L64.86,89.40 L64.92,89.54 L64.98,89.69 L65.05,89.83 L65.11,89.98 L65.17,90.12 L65.23,90.26 L65.29,90.40 L65.35,90.54 L65.41,90.68 L65.47,90.82 L65.54,90.96 L65.60,91.10 L65.66,91.23 L65.72,91.37 L65.78,91.50 L65.84,91.64 L65.90,91.77 L65.96,91.90 L66.02,92.03 L66.09,92.17 L66.15,92.30 L66.21,92.43 L66.27,92.56 L66.33,92.68 L66.39,92.81 L66.45,92.94 L66.51,93.06 L66.57,93.19 L66.63,93.32 L66.70,93.44 L66.76,93.56 L66.82,93.69 L66.88,93.81 L66.94,93.93 L67.00,94.05 L67.06,94.17 L67.12,94.29 L67.18,94.41 L67.24,94.53 L67.31,94.65 L67.37,94.76 L67.43,94.88 L67.49,95.00 L67.55,95.11 L67.61,95.23 L67.67,95.34 L67.73,95.45 L67.79,95.57 L67.85,95.68 L67.91,95.79 L67.98,95.90 L68.04,96.01 L68.10,96.12 L68.16,96.23 L68.22,96.34 L68.28,96.45 L68.34,96.56 L68.40,96.67 L68.46,96.77 L68.52,96.88 L68.58,96.98 L68.64,97.09 L68.70,97.19 L68.77,97.30 L68.83,97.40 L68.89,97.51 L68.95,97.61 L69.01,97.71 L69.07,97.81 L69.13,97.91 L69.19,98.01 L69.25,98.11 L69.31,98.21 L69.37,98.31 L69.43,98.41 L69.49,98.51 L69.55,98.61 L69.62,98.71 L69.68,98.80 L69.74,98.90 L69.80,99.00 L69.86,99.09 L69.92,99.19 L69.98,99.28 L70.04,99.38 L70.10,99.47 L70.16,99.56 L70.22,99.66 L70.28,99.75 L70.34,99.84 L70.40,99.93 L70.46,100.02 L70.52,100.11 L70.59,100.20 L70.65,100.29 L70.71,100.38 L70.77,100.47 L70.83,100.56 L70.89,100.65 L71.76,101.88 L72.63,103.03 L73.50,104.12 L74.37,105.14 L75.24,106.10 L76.11,107.01 L76.98,107.87 L77.82,108.69 L78.66,109.46 L79.50,110.20 L80.34,110.90 L81.18,111.57 L82.02,112.20 L82.86,112.81 L83.70,113.39 L84.55,113.94 L85.39,114.47 L86.24,114.98 L87.08,115.47 L87.93,115.94 L88.77,116.39 L89.62,116.82 L90.47,117.24 L91.31,117.64 L92.16,118.03 L93.01,118.40 L93.86,118.76 L94.70,119.10 L95.55,119.44 L96.40,119.76 L97.25,120.08 L98.10,120.38 L98.95,120.67 L99.80,120.96 L100.65,121.23 L101.50,121.50 L102.35,121.76 L103.20,122.01 L104.06,122.25 L104.91,122.49 L105.76,122.72 L106.61,122.94 L107.46,123.16 L108.31,123.37 L109.17,123.57 L110.02,123.77 L110.87,123.97 L111.72,124.16 L112.58,124.34 L113.43,124.52 L114.28,124.70 L115.13,124.87 L115.99,125.04 L116.84,125.20 L117.69,125.36 L118.55,125.51 L119.40,125.66 L120.25,125.81 L121.11,125.96 L121.96,126.10 L122.82,126.24 L123.67,126.37 L124.52,126.51 L125.38,126.64 L126.23,126.76 L127.09,126.89 L127.94,127.01 L128.79,127.13 L129.65,127.24 L130.50,127.36 L131.36,127.47 L132.21,127.58 L133.07,127.69 L133.92,127.79 L134.77,127.90 L135.63,128.00 L136.49,128.10 L137.34,128.19 L138.20,128.29 L139.06,128.38 L139.92,128.48 L140.77,128.57 L141.63,128.66 L142.49,128.74 L143.34,128.83 L144.20,128.91 L145.06,129.00 L145.92,129.08 L146.77,129.16 L147.63,129.24 L148.49,129.31 L149.35,129.39 L150.20,129.46 L151.06,129.54 L151.92,129.61 L152.77,129.68 L153.63,129.75 L154.49,129.82 L155.35,129.89 L156.20,129.95 L157.06,130.02 L157.92,130.08 L158.77,130.15 L159.63,130.21 L160.49,130.27 L161.35,130.33 L162.20,130.39 L163.06,130.45 L163.92,130.51 L164.78,130.57 L165.63,130.62 L166.49,130.68 L167.35,130.73 L168.20,130.79 L169.06,130.84 L169.92,130.89 L170.78,130.95 L171.63,131.00 L172.49,131.05 L173.35,131.10 L174.20,131.15 L175.06,131.20 L175.92,131.24 L176.78,131.29 L177.63,131.34 L178.49,131.38 L179.35,131.43 L180.21,131.47 L181.06,131.52 L181.92,131.56 L182.78,131.60 L183.63,131.65 L184.49,131.69 L185.35,131.73 L186.21,131.77 L187.06,131.81 L187.92,131.85 L188.78,131.89 L189.64,131.93 L190.49,131.97 L191.35,132.01 L192.21,132.04 L193.06,132.08 L193.92,132.12 L194.78,132.15 L195.64,132.19 L196.49,132.23 L197.35,132.26 L198.21,132.29 L199.06,132.33 L199.92,132.36 L200.78,132.40 L201.64,132.43 L202.49,132.46 L203.35,132.49 L204.21,132.53 L205.07,132.56 L205.92,132.59 L206.78,132.62 L207.64,132.65 L208.49,132.68 L209.35,132.71 L210.21,132.74 L211.07,132.77 L211.92,132.80 L212.78,132.83 L213.64,132.86 L214.49,132.89 L215.35,132.91 L216.21,132.94 L217.07,132.97 L217.92,132.99 L218.78,133.02 L219.64,133.05 L220.50,133.07 L221.35,133.10 L222.21,133.13 L223.07,133.15 L223.92,133.18 L224.78,133.20 L225.64,133.23 L226.50,133.25 L227.35,133.27 L228.21,133.30 L229.07,133.32 L229.92,133.35 L230.78,133.37 L231.64,133.39 L232.50,133.42 L233.35,133.44 L234.21,133.46 L235.07,133.48 L235.93,133.51 L236.78,133.53 L237.64,133.55 L238.50,133.57 L239.35,133.59 L240.21,133.61 L241.07,133.63 L241.93,133.65 L242.78,133.67 L243.64,133.69 L244.50,133.72 L245.36,133.74 L246.21,133.75 L247.07,133.77 L247.93,133.79 L248.78,133.81 L249.64,133.83 L250.50,133.85 L251.36,133.87 L252.21,133.89 L253.07,133.91 L253.93,133.93 L254.78,133.94 L255.64,133.96 L256.50,133.98 L257.36,134.00 L258.21,134.02 L259.07,134.03 L259.93,134.05 L260.79,134.07 L261.64,134.08 L262.50,134.10 L263.36,134.12 L264.21,134.13 L265.07,134.15 L265.93,134.17 L266.79,134.18 L267.64,134.20 L268.50,134.22 L269.36,134.23 L270.21,134.25 L271.07,134.26 L271.93,134.28 L272.79,134.29 L273.64,134.31 L274.50,134.32 L275.36,134.34 L276.22,134.35 L277.07,134.37 L277.93,134.38 L278.79,134.40 L279.64,134.41 L280.50,134.43 L281.36,134.44 L282.22,134.45 L283.07,134.47 L283.93,134.48 L284.79,134.50 L285.64,134.51 L286.50,134.52 L287.36,134.54 L288.22,134.55 L289.07,134.56 L289.93,134.58 L290.79,134.59 L291.65,134.60 L292.50,134.62 L293.36,134.63 L294.22,134.64 L295.07,134.65 L295.93,134.67 L296.79,134.68 L297.65,134.69 L298.50,134.70 L299.36,134.72 L300.22,134.73 L301.08,134.74 L301.93,134.75 L302.79,134.76 L303.65,134.78 L304.50,134.79 L305.36,134.80 L306.22,134.81 L307.08,134.82 L307.93,134.83 L308.79,134.85 L309.65,134.86 L310.50,134.87 L311.36,134.88 L312.22,134.89 L313.08,134.90 L313.93,134.91 L314.79,134.92 L315.65,134.93 L316.51,134.94 L317.36,134.96 L318.22,134.97 L319.08,134.98 L319.93,134.99 L320.79,135.00 L321.65,135.01 L322.51,135.02 L323.36,135.03 L324.22,135.04 L325.08,135.05 L325.93,135.06 L326.79,135.07" stroke="#ffff00" stroke-width="1.6"/><path d="M48.71,-30.00 L48.71,-29.48 L48.72,-28.96 L48.72,-28.44 L48.73,-27.92 L48.73,-27.66 L48.73,-27.39 L48.74,-26.87 L48.74,-26.35 L48.75,-25.83 L48.75,-25.32 L48.75,-25.31 L48.76,-24.79 L48.76,-24.27 L48.77,-23.75 L48.78,-23.23 L48.78,-22.98 L48.78,-22.71 L48.79,-22.18 L48.79,-21.66 L48.80,-21.14 L48.80,-20.64 L48.80,-20.62 L48.81,-20.10 L48.81,-19.58 L48.82,-19.06 L48.83,-18.54 L48.83,-18.30 L48.83,-18.02 L48.84,-17.50 L48.84,-16.97 L48.85,-16.45 L48.86,-15.96 L48.86,-15.93 L48.86,-15.41 L48.87,-14.89 L48.88,-14.37 L48.88,-13.85 L48.89,-13.62 L48.89,-13.33 L48.90,-12.81 L48.90,-12.29 L48.91,-11.76 L48.92,-11.28 L48.92,-11.24 L48.92,-10.72 L48.93,-10.20 L48.94,-9.68 L48.94,-9.16 L48.95,-8.94 L48.95,-8.64 L48.96,-8.12 L48.96,-7.60 L48.97,-7.08 L48.98,-6.60 L48.98,-6.55 L48.99,-6.03 L48.99,-5.51 L49.00,-4.99 L49.01,-4.47 L49.01,-4.26 L49.02,-3.95 L49.02,-3.43 L49.03,-2.91 L49.04,-2.39 L49.04,-1.92 L49.05,-1.87 L49.05,-1.34 L49.06,-0.82 L49.07,-0.30 L49.08,0.22 L49.08,0.42 L49.08,0.74 L49.09,1.26 L49.10,1.78 L49.11,2.30 L49.11,2.76 L49.11,2.82 L49.12,3.34 L49.13,3.87 L49.14,4.39 L49.15,4.91 L49.15,5.10 L49.15,5.43 L49.16,5.95 L49.17,6.47 L49.18,6.99 L49.19,7.44 L49.19,7.51 L49.20,8.03 L49.20,8.55 L49.21,9.07 L49.22,9.60 L49.22,9.78 L49.23,10.12 L49.24,10.64 L49.25,11.16 L49.25,11.68 L49.26,12.12 L49.26,12.20 L49.27,12.72 L49.28,13.24 L49.29,13.76 L49.30,14.28 L49.30,14.46 L49.31,14.81 L49.32,15.33 L49.33,15.85 L49.34,16.37 L49.34,16.80 L49.34,16.89 L49.35,17.41 L49.36,17.93 L49.37,18.45 L49.38,18.97 L49.39,19.14 L49.39,19.49 L49.40,20.02 L49.41,20.54 L49.42,21.06 L49.43,21.48 L49.43,21.58 L49.44,22.10 L49.45,22.62 L49.46,23.14 L49.47,23.66 L49.48,23.82 L49.48,24.18 L49.50,24.70 L49.51,25.22 L49.52,25.75 L49.53,26.16 L49.53,26.27 L49.54,26.79 L49.55,27.31 L49.56,27.83 L49.57,28.35 L49.57,28.50 L49.58,28.87 L49.59,29.39 L49.61,29.91 L49.62,30.43 L49.63,30.84 L49.63,30.95 L49.64,31.48 L49.65,32.00 L49.66,32.52 L49.67,33.04 L49.68,33.18 L49.69,33.56 L49.70,34.08 L49.71,34.60 L49.72,35.12 L49.73,35.52 L49.73,35.64 L49.75,36.16 L49.76,36.68 L49.77,37.21 L49.78,37.73 L49.79,37.86 L49.80,38.25 L49.81,38.77 L49.82,39.29 L49.83,39.81 L49.84,40.20 L49.85,40.33 L49.86,40.85 L49.87,41.37 L49.89,41.89 L49.90,42.41 L49.90,42.54 L49.91,42.94 L49.93,43.46 L49.94,43.98 L49.95,44.50 L49.96,44.88 L49.97,45.02 L49.98,45.54 L49.99,46.06 L50.01,46.58 L50.02,47.10 L50.02,47.22 L50.04,47.62 L50.05,48.14 L50.06,48.67 L50.08,49.19 L50.09,49.55 L50.09,49.71 L50.11,50.23 L50.12,50.75 L50.14,51.27 L50.15,51.79 L50.16,51.89 L50.17,52.31 L50.18,52.83 L50.20,53.35 L50.21,53.87 L50.22,54.23 L50.23,54.39 L50.24,54.92 L50.26,55.44 L50.28,55.96 L50.29,56.48 L50.29,56.57 L50.31,57.00 L50.32,57.52 L50.34,58.04 L50.36,58.56 L50.37,58.91 L50.37,59.08 L50.39,59.60 L50.41,60.12 L50.42,60.64 L50.44,61.16 L50.44,61.25 L50.46,61.69 L50.48,62.21 L50.49,62.73 L50.51,63.25 L50.52,63.59 L50.53,63.77 L50.55,64.29 L50.56,64.81 L50.58,65.33 L50.60,65.85 L50.60,65.93 L50.62,66.37 L50.64,66.89 L50.66,67.41 L50.68,67.93 L50.69,68.27 L50.70,68.45 L50.71,68.98 L50.73,69.50 L50.75,70.02 L50.77,70.54 L50.78,70.60 L50.79,71.06 L50.81,71.58 L50.83,72.10 L50.85,72.62 L50.87,72.94 L50.87,73.14 L50.89,73.66 L50.92,74.18 L50.94,74.70 L50.96,75.22 L50.96,75.28 L50.98,75.74 L51.00,76.26 L51.02,76.79 L51.05,77.31 L51.06,77.62 L51.07,77.83 L51.09,78.35 L51.11,78.87 L51.14,79.39 L51.16,79.91 L51.16,79.96 L51.18,80.43 L51.21,80.95 L51.23,81.47 L51.25,81.99 L51.27,82.30 L51.28,82.51 L51.30,83.03 L51.33,83.55 L51.35,84.07 L51.38,84.59 L51.38,84.63 L51.40,85.11 L51.43,85.64 L51.45,86.16 L51.48,86.68 L51.49,86.97 L51.50,87.20 L51.53,87.72 L51.55,88.24 L51.58,88.76 L51.61,89.28 L51.61,89.31 L51.64,89.80 L51.66,90.32 L51.69,90.84 L51.72,91.36 L51.73,91.65 L51.75,91.88 L51.77,92.40 L51.80,92.92 L51.83,93.44 L51.86,93.96 L51.86,93.98 L51.89,94.48 L51.92,95.00 L51.95,95.52 L51.98,96.04 L51.99,96.32 L52.01,96.56 L52.04,97.08 L52.07,97.60 L52.10,98.12 L52.13,98.64 L52.13,98.66 L52.16,99.16 L52.19,99.68 L52.22,100.20 L52.25,100.72 L52.27,100.99 L52.28,101.24 L52.32,101.76 L52.35,102.28 L52.38,102.80 L52.42,103.32 L52.42,103.33 L52.45,103.84 L52.48,104.36 L52.52,104.88 L52.55,105.40 L52.57,105.66 L52.59,105.92 L52.62,106.44 L52.66,106.96 L52.70,107.48 L52.73,108.00 L52.73,108.00 L52.77,108.52 L52.81,109.04 L52.85,109.56 L52.88,110.08 L52.90,110.33 L52.92,110.60 L52.96,111.12 L53.00,111.64 L53.04,112.16 L53.08,112.67 L53.08,112.68 L53.12,113.20 L53.16,113.72 L53.20,114.24 L53.25,114.76 L53.27,115.00 L53.29,115.28 L53.33,115.80 L53.37,116.32 L53.42,116.84 L53.46,117.33 L53.46,117.36 L53.51,117.88 L53.55,118.40 L53.60,118.91 L53.65,119.43 L53.67,119.67 L53.69,119.95 L53.74,120.47 L53.79,120.99 L53.84,121.51 L53.88,122.00 L53.88,122.03 L53.93,122.55 L53.98,123.06 L54.03,123.58 L54.08,124.10 L54.11,124.33 L54.14,124.62 L54.19,125.14 L54.24,125.66 L54.29,126.17 L54.34,126.65 L54.35,126.69 L54.40,127.21 L54.46,127.73 L54.51,128.24 L54.57,128.76 L54.59,128.98 L54.63,129.28 L54.69,129.80 L54.75,130.31 L54.81,130.83 L54.87,131.30 L54.88,131.35 L54.94,131.87 L55.01,132.38 L55.08,132.90 L55.15,133.42 L55.18,133.62 L55.23,133.93 L55.30,134.45 L55.37,134.96 L55.45,135.48 L55.52,135.94 L55.53,136.00 L55.61,136.51 L55.69,137.03 L55.77,137.54 L55.85,138.06 L55.88,138.25 L55.94,138.57 L56.02,139.08 L56.11,139.60 L56.19,140.11 L56.27,140.56 L56.28,140.62 L56.37,141.13 L56.47,141.65 L56.56,142.16 L56.66,142.67 L56.70,142.86 L56.76,143.18 L56.87,143.69 L56.97,144.21 L57.08,144.72 L57.17,145.15 L57.18,145.23 L57.30,145.74 L57.41,146.25 L57.52,146.75 L57.64,147.26 L57.68,147.44 L57.76,147.77 L57.87,148.28 L58.00,148.78 L58.12,149.29 L58.22,149.71 L58.24,149.80 L58.37,150.30 L58.49,150.81 L58.62,151.31 L58.76,151.82 L58.80,151.98 L58.89,152.32 L59.03,152.83 L59.17,153.33 L59.31,153.83 L59.43,154.24 L59.46,154.33 L59.61,154.83 L59.76,155.33 L59.92,155.83 L60.07,156.33 L60.13,156.48 L60.24,156.82 L60.41,157.31 L60.58,157.80 L60.75,158.29 L60.90,158.68 L60.94,158.77 L61.12,159.26 L61.32,159.75 L61.52,160.23 L61.72,160.72 L61.78,160.86 L61.93,161.20 L62.15,161.68 L62.37,162.15 L62.59,162.62 L62.77,162.99 L62.82,163.09 L63.06,163.56 L63.30,164.02 L63.55,164.47 L63.80,164.92 L63.87,165.04 L64.06,165.36 L64.32,165.81 L64.60,166.25 L64.88,166.69 L65.10,167.03 L65.17,167.13 L65.46,167.57 L65.77,168.01 L66.08,168.44 L66.39,168.86 L66.48,168.97 L66.72,169.28 L67.04,169.69 L67.38,170.10 L67.71,170.50 L67.97,170.79 L68.06,170.89 L68.41,171.27 L68.76,171.64 L69.11,172.00 L69.48,172.36 L69.57,172.44 L69.85,172.71 L70.24,173.05 L70.63,173.39 L71.03,173.73 L71.33,173.97 L71.44,174.06 L71.86,174.39 L72.28,174.71 L72.71,175.02 L73.14,175.33 L73.24,175.39 L73.57,175.62 L74.01,175.92 L74.46,176.20 L74.90,176.48 L75.22,176.67 L75.35,176.74 L75.79,177.00 L76.24,177.25 L76.70,177.49 L77.16,177.73 L77.25,177.78 L77.62,177.96 L78.10,178.19 L78.57,178.41 L79.05,178.62 L79.39,178.76 L79.53,178.83 L80.02,179.03 L80.51,179.22 L81.00,179.41 L81.48,179.59 L81.58,179.63 L81.97,179.77 L82.46,179.94 L82.95,180.11 L83.45,180.27 L83.78,180.38 L83.94,180.43 L84.44,180.58 L84.94,180.73 L85.44,180.88 L85.94,181.03 L86.03,181.05 L86.45,181.17 L86.95,181.31 L87.45,181.44 L87.96,181.57 L88.30,181.66 L88.47,181.70 L88.97,181.83 L89.48,181.95 L89.98,182.07 L90.49,182.19 L90.57,182.20 L91.00,182.30 L91.51,182.42 L92.02,182.53 L92.52,182.64 L92.86,182.71 L93.03,182.75 L93.55,182.85 L94.06,182.96 L94.57,183.06 L95.08,183.16 L95.15,183.17 L95.59,183.26 L96.11,183.35 L96.62,183.45 L97.13,183.54 L97.46,183.59 L97.65,183.63 L98.16,183.71 L98.67,183.80 L99.19,183.88 L99.70,183.96 L99.77,183.97 L100.22,184.04 L100.73,184.12 L101.25,184.19 L101.76,184.27 L102.08,184.31 L102.28,184.34 L102.79,184.41 L103.31,184.49 L103.83,184.56 L104.34,184.63 L104.40,184.64 L104.86,184.70 L105.38,184.77 L105.89,184.84 L106.41,184.90 L106.72,184.94 L106.93,184.97 L107.45,185.03 L107.96,185.10 L108.48,185.16 L109.00,185.22 L109.05,185.22 L109.52,185.28 L110.04,185.33 L110.55,185.39 L111.07,185.44 L111.37,185.47 L111.59,185.50 L112.11,185.55 L112.63,185.60 L113.15,185.64 L113.67,185.69 L113.70,185.69 L114.19,185.73 L114.70,185.78 L115.22,185.82 L115.74,185.85 L116.03,185.88 L116.26,185.89 L116.78,185.93 L117.30,185.97 L117.82,186.01 L118.34,186.04 L118.37,186.04 L118.86,186.08 L119.38,186.11 L119.90,186.15 L120.42,186.18 L120.70,186.20 L120.94,186.22 L123.03,186.35 L125.37,186.48 L127.71,186.61 L130.05,186.73 L132.39,186.84 L134.73,186.94 L137.07,187.04 L139.40,187.13 L141.74,187.22 L144.08,187.30 L146.42,187.37 L148.76,187.45 L151.10,187.52 L153.44,187.58 L155.78,187.65 L158.12,187.71 L160.46,187.76 L162.80,187.82 L165.14,187.87 L167.47,187.92 L169.81,187.96 L172.15,188.00 L174.49,188.04 L176.83,188.08 L179.17,188.12 L181.51,188.16 L183.85,188.19 L186.19,188.23 L188.53,188.26 L190.87,188.29 L193.21,188.33 L195.55,188.36 L197.89,188.40 L200.23,188.43 L202.57,188.47 L204.91,188.50 L207.25,188.54 L209.59,188.57 L211.93,188.60 L214.27,188.63 L216.61,188.67 L218.95,188.70 L221.29,188.73 L223.63,188.75 L225.97,188.78 L228.31,188.81 L230.65,188.83 L232.99,188.86 L235.33,188.88 L237.67,188.90 L240.01,188.92 L242.35,188.94 L244.69,188.96 L247.03,188.98 L249.37,189.00 L251.71,189.02 L254.05,189.04 L256.40,189.06 L258.74,189.08 L261.08,189.10 L263.42,189.12 L265.76,189.13 L268.10,189.15 L270.44,189.17 L272.78,189.18 L275.12,189.20 L277.46,189.21 L279.80,189.23 L282.14,189.25 L284.48,189.26 L286.82,189.28 L289.16,189.29 L291.50,189.31 L293.84,189.32 L296.18,189.34 L298.52,189.35 L300.86,189.37 L303.20,189.38 L305.54,189.39 L307.88,189.41 L310.22,189.42 L312.56,189.43 L314.90,189.45 L317.24,189.46 L319.58,189.47 L321.92,189.48 L324.26,189.49 L326.60,189.50" stroke="#ff8000" stroke-width="1.6"/><path d="M47.50,-30.00 L47.51,-29.48 L47.51,-28.96 L47.52,-28.44 L47.53,-27.92 L47.53,-27.59 L47.53,-27.39 L47.54,-26.87 L47.55,-26.35 L47.55,-25.83 L47.56,-25.31 L47.56,-25.18 L47.57,-24.79 L47.57,-24.27 L47.58,-23.75 L47.59,-23.23 L47.59,-22.76 L47.60,-22.71 L47.60,-22.18 L47.61,-21.66 L47.62,-21.14 L47.62,-20.62 L47.63,-20.35 L47.63,-20.10 L47.64,-19.58 L47.65,-19.06 L47.65,-18.54 L47.66,-18.02 L47.66,-17.94 L47.67,-17.50 L47.68,-16.98 L47.68,-16.45 L47.69,-15.93 L47.70,-15.53 L47.70,-15.41 L47.71,-14.89 L47.72,-14.37 L47.72,-13.85 L47.73,-13.33 L47.73,-13.11 L47.74,-12.81 L47.75,-12.29 L47.76,-11.77 L47.76,-11.24 L47.77,-10.72 L47.77,-10.70 L47.78,-10.20 L47.79,-9.68 L47.80,-9.16 L47.81,-8.64 L47.81,-8.29 L47.81,-8.12 L47.82,-7.60 L47.83,-7.08 L47.84,-6.56 L47.85,-6.03 L47.85,-5.88 L47.86,-5.51 L47.86,-4.99 L47.87,-4.47 L47.88,-3.95 L47.89,-3.46 L47.89,-3.43 L47.90,-2.91 L47.91,-2.39 L47.92,-1.87 L47.93,-1.35 L47.93,-1.05 L47.93,-0.82 L47.94,-0.30 L47.95,0.22 L47.96,0.74 L47.97,1.26 L47.97,1.36 L47.98,1.78 L47.99,2.30 L48.00,2.82 L48.01,3.34 L48.01,3.77 L48.02,3.86 L48.02,4.38 L48.03,4.91 L48.04,5.43 L48.05,5.95 L48.06,6.18 L48.06,6.47 L48.07,6.99 L48.08,7.51 L48.09,8.03 L48.10,8.55 L48.10,8.60 L48.11,9.07 L48.12,9.59 L48.13,10.12 L48.14,10.64 L48.14,11.01 L48.15,11.16 L48.16,11.68 L48.17,12.20 L48.18,12.72 L48.19,13.24 L48.19,13.42 L48.20,13.76 L48.21,14.28 L48.22,14.80 L48.23,15.32 L48.24,15.83 L48.24,15.85 L48.25,16.37 L48.26,16.89 L48.27,17.41 L48.28,17.93 L48.28,18.24 L48.29,18.45 L48.30,18.97 L48.31,19.49 L48.32,20.01 L48.33,20.53 L48.33,20.66 L48.34,21.06 L48.35,21.58 L48.36,22.10 L48.37,22.62 L48.38,23.07 L48.38,23.14 L48.40,23.66 L48.41,24.18 L48.42,24.70 L48.43,25.22 L48.43,25.48 L48.44,25.74 L48.45,26.26 L48.46,26.79 L48.47,27.31 L48.49,27.83 L48.49,27.89 L48.50,28.35 L48.51,28.87 L48.52,29.39 L48.53,29.91 L48.54,30.30 L48.54,30.43 L48.56,30.95 L48.57,31.47 L48.58,31.99 L48.59,32.52 L48.60,32.72 L48.61,33.04 L48.62,33.56 L48.63,34.08 L48.64,34.60 L48.65,35.12 L48.65,35.13 L48.67,35.64 L48.68,36.16 L48.69,36.68 L48.70,37.20 L48.71,37.54 L48.72,37.72 L48.73,38.25 L48.74,38.77 L48.76,39.29 L48.77,39.81 L48.77,39.95 L48.78,40.33 L48.80,40.85 L48.81,41.37 L48.82,41.89 L48.84,42.36 L48.84,42.41 L48.85,42.93 L48.86,43.45 L48.88,43.97 L48.89,44.50 L48.90,44.78 L48.90,45.02 L48.92,45.54 L48.93,46.06 L48.95,46.58 L48.96,47.10 L48.96,47.19 L48.98,47.62 L48.99,48.14 L49.00,48.66 L49.02,49.18 L49.03,49.60 L49.03,49.70 L49.05,50.22 L49.06,50.75 L49.08,51.27 L49.09,51.79 L49.10,52.01 L49.11,52.31 L49.12,52.83 L49.14,53.35 L49.15,53.87 L49.17,54.39 L49.17,54.42 L49.18,54.91 L49.20,55.43 L49.22,55.95 L49.23,56.47 L49.24,56.83 L49.25,57.00 L49.26,57.52 L49.28,58.04 L49.29,58.56 L49.31,59.08 L49.32,59.24 L49.33,59.60 L49.34,60.12 L49.36,60.64 L49.38,61.16 L49.39,61.66 L49.39,61.68 L49.41,62.20 L49.43,62.72 L49.44,63.25 L49.46,63.77 L49.47,64.07 L49.48,64.29 L49.49,64.81 L49.51,65.33 L49.53,65.85 L49.55,66.37 L49.55,66.48 L49.56,66.89 L49.58,67.41 L49.60,67.93 L49.62,68.45 L49.63,68.89 L49.63,68.97 L49.65,69.49 L49.67,70.01 L49.69,70.54 L49.71,71.06 L49.71,71.30 L49.72,71.58 L49.74,72.10 L49.76,72.62 L49.78,73.14 L49.80,73.66 L49.80,73.71 L49.82,74.18 L49.84,74.70 L49.86,75.22 L49.87,75.74 L49.89,76.12 L49.89,76.26 L49.91,76.78 L49.93,77.30 L49.95,77.83 L49.97,78.35 L49.98,78.53 L49.99,78.87 L50.01,79.39 L50.03,79.91 L50.05,80.43 L50.07,80.94 L50.07,80.95 L50.09,81.47 L50.11,81.99 L50.13,82.51 L50.16,83.03 L50.17,83.36 L50.18,83.55 L50.20,84.07 L50.22,84.59 L50.24,85.11 L50.26,85.64 L50.27,85.77 L50.28,86.16 L50.30,86.68 L50.33,87.20 L50.35,87.72 L50.37,88.18 L50.37,88.24 L50.39,88.76 L50.41,89.28 L50.44,89.80 L50.46,90.32 L50.47,90.59 L50.48,90.84 L50.51,91.36 L50.53,91.88 L50.55,92.40 L50.57,92.92 L50.58,93.00 L50.60,93.44 L50.62,93.96 L50.64,94.48 L50.67,95.01 L50.69,95.41 L50.69,95.53 L50.72,96.05 L50.74,96.57 L50.76,97.09 L50.79,97.61 L50.80,97.82 L50.81,98.13 L50.84,98.65 L50.86,99.17 L50.89,99.69 L50.91,100.21 L50.91,100.23 L50.93,100.73 L50.96,101.25 L50.98,101.77 L51.01,102.29 L51.03,102.64 L51.03,102.81 L51.06,103.33 L51.08,103.85 L51.11,104.37 L51.14,104.89 L51.14,105.05 L51.16,105.41 L51.19,105.94 L51.21,106.46 L51.24,106.98 L51.26,107.46 L51.26,107.50 L51.29,108.02 L51.32,108.54 L51.34,109.06 L51.37,109.58 L51.38,109.87 L51.40,110.10 L51.42,110.62 L51.45,111.14 L51.48,111.66 L51.50,112.18 L51.51,112.28 L51.53,112.70 L51.56,113.22 L51.59,113.74 L51.62,114.26 L51.64,114.69 L51.65,114.78 L51.68,115.30 L51.70,115.82 L51.73,116.34 L51.76,116.86 L51.78,117.10 L51.79,117.38 L51.83,117.91 L51.86,118.43 L51.89,118.95 L51.92,119.47 L51.92,119.50 L51.95,119.99 L51.98,120.51 L52.02,121.03 L52.05,121.55 L52.07,121.91 L52.08,122.07 L52.12,122.59 L52.15,123.10 L52.19,123.62 L52.22,124.14 L52.23,124.32 L52.26,124.66 L52.29,125.18 L52.33,125.70 L52.37,126.22 L52.41,126.72 L52.41,126.74 L52.44,127.26 L52.48,127.78 L52.52,128.30 L52.56,128.82 L52.59,129.13 L52.61,129.34 L52.65,129.86 L52.70,130.38 L52.75,130.89 L52.80,131.41 L52.81,131.53 L52.85,131.93 L52.90,132.45 L52.96,132.97 L53.01,133.49 L53.06,133.93 L53.07,134.00 L53.12,134.52 L53.18,135.04 L53.24,135.56 L53.29,136.08 L53.32,136.33 L53.35,136.60 L53.40,137.11 L53.46,137.63 L53.51,138.15 L53.57,138.67 L53.57,138.73 L53.62,139.19 L53.67,139.71 L53.72,140.22 L53.77,140.74 L53.81,141.13 L53.82,141.26 L53.87,141.78 L53.91,142.30 L53.96,142.82 L54.01,143.34 L54.02,143.53 L54.05,143.86 L54.10,144.38 L54.15,144.90 L54.19,145.41 L54.24,145.93 L54.24,145.94 L54.29,146.45 L54.34,146.97 L54.39,147.49 L54.44,148.01 L54.47,148.34 L54.49,148.53 L54.55,149.04 L54.60,149.56 L54.66,150.08 L54.72,150.60 L54.73,150.73 L54.78,151.11 L54.83,151.63 L54.89,152.15 L54.95,152.67 L55.01,153.14 L55.01,153.19 L55.07,153.71 L55.14,154.23 L55.20,154.75 L55.26,155.27 L55.30,155.54 L55.33,155.79 L55.39,156.31 L55.46,156.82 L55.53,157.34 L55.60,157.86 L55.61,157.94 L55.67,158.38 L55.75,158.90 L55.82,159.41 L55.90,159.93 L55.96,160.33 L55.98,160.44 L56.06,160.96 L56.14,161.47 L56.23,161.98 L56.32,162.49 L56.36,162.71 L56.41,163.00 L56.51,163.51 L56.60,164.02 L56.70,164.53 L56.81,165.04 L56.81,165.06 L56.92,165.54 L57.04,166.04 L57.18,166.54 L57.32,167.04 L57.42,167.38 L57.47,167.54 L57.63,168.04 L57.79,168.54 L57.96,169.03 L58.13,169.53 L58.18,169.68 L58.30,170.02 L58.48,170.52 L58.65,171.01 L58.83,171.50 L58.99,171.96 L59.00,171.99 L59.17,172.49 L59.34,172.98 L59.52,173.47 L59.70,173.96 L59.81,174.23 L59.89,174.44 L60.07,174.93 L60.26,175.42 L60.45,175.90 L60.65,176.38 L60.69,176.48 L60.84,176.87 L61.04,177.35 L61.25,177.83 L61.45,178.31 L61.63,178.70 L61.67,178.78 L61.89,179.26 L62.11,179.73 L62.35,180.19 L62.59,180.65 L62.71,180.86 L62.85,181.11 L63.11,181.56 L63.39,181.99 L63.68,182.42 L63.98,182.86 L64.01,182.90 L64.29,183.30 L64.60,183.73 L64.92,184.16 L65.24,184.59 L65.48,184.89 L65.58,185.00 L65.92,185.41 L66.28,185.79 L66.64,186.16 L67.01,186.51 L67.14,186.63 L67.39,186.83 L67.78,187.13 L68.18,187.42 L68.61,187.70 L69.04,187.97 L69.05,187.97 L69.51,188.24 L69.97,188.49 L70.45,188.74 L70.93,188.97 L71.23,189.11 L71.42,189.19 L71.91,189.40 L72.41,189.59 L72.90,189.77 L73.39,189.94 L73.51,189.97 L73.88,190.08 L74.37,190.22 L74.87,190.36 L75.38,190.49 L75.82,190.59 L75.88,190.61 L76.39,190.73 L76.91,190.84 L77.42,190.94 L77.94,191.04 L78.20,191.09 L78.46,191.13 L78.97,191.22 L79.49,191.30 L80.01,191.37 L80.52,191.44 L80.59,191.45 L81.04,191.51 L81.55,191.58 L82.07,191.64 L82.59,191.70 L82.98,191.74 L83.10,191.75 L83.62,191.81 L84.14,191.86 L84.66,191.91 L85.18,191.96 L85.38,191.98 L85.70,192.01 L86.22,192.06 L86.74,192.10 L87.26,192.14 L87.78,192.19 L87.79,192.19 L88.30,192.23 L88.82,192.26 L89.34,192.30 L89.86,192.34 L90.20,192.36 L90.38,192.38 L90.90,192.41 L91.42,192.45 L91.94,192.48 L92.46,192.51 L92.60,192.52 L92.98,192.54 L93.50,192.58 L94.02,192.61 L94.54,192.63 L95.01,192.66 L95.06,192.66 L95.58,192.69 L96.10,192.72 L96.62,192.74 L97.14,192.77 L97.42,192.78 L97.66,192.80 L98.18,192.82 L98.70,192.84 L99.22,192.87 L99.74,192.89 L99.83,192.89 L100.26,192.91 L100.78,192.93 L101.30,192.95 L101.83,192.98 L102.24,192.99 L102.35,193.00 L102.87,193.02 L103.39,193.04 L103.91,193.06 L104.43,193.08 L104.65,193.08 L104.95,193.10 L105.47,193.11 L105.99,193.13 L106.51,193.15 L107.07,193.17 L109.48,193.25 L111.89,193.32 L114.30,193.38 L116.71,193.44 L119.12,193.49 L121.54,193.54 L123.95,193.59 L126.36,193.63 L128.77,193.67 L131.19,193.71 L133.60,193.74 L136.01,193.76 L138.42,193.78 L140.83,193.80 L143.25,193.82 L145.66,193.84 L148.07,193.86 L150.48,193.87 L152.90,193.88 L155.31,193.89 L157.72,193.90 L160.13,193.90 L162.55,193.90 L164.96,193.90 L167.37,193.90 L169.78,193.90 L172.20,193.90 L174.61,193.90 L177.02,193.90 L179.43,193.90 L181.85,193.90 L184.26,193.90 L186.67,193.90 L189.09,193.90 L191.50,193.90 L193.91,193.90 L196.32,193.90 L198.74,193.90 L201.15,193.90 L203.56,193.90 L205.97,193.90 L208.39,193.90 L210.80,193.90 L213.21,193.90 L215.62,193.90 L218.04,193.90 L220.45,193.90 L222.86,193.90 L225.27,193.90 L227.69,193.90 L230.10,193.90 L232.51,193.90 L234.92,193.90 L237.34,193.90 L239.75,193.90 L242.16,193.90 L244.57,193.90 L246.99,193.90 L249.40,193.90 L251.81,193.90 L254.22,193.90 L256.64,193.90 L259.05,193.90 L261.46,193.90 L263.87,193.90 L266.29,193.90 L268.70,193.90 L271.11,193.90 L273.52,193.90 L275.94,193.90 L278.35,193.90 L280.76,193.90 L283.17,193.90 L285.59,193.90 L288.00,193.90 L290.41,193.90 L292.82,193.90 L295.24,193.90 L297.65,193.90 L300.06,193.90 L302.47,193.90 L304.89,193.90 L307.30,193.90 L309.71,193.90 L312.12,193.90 L314.54,193.90 L316.95,193.90 L319.36,193.90 L321.77,193.90 L324.19,193.90 L326.60,193.90" stroke="#800080" stroke-width="1.6"/><path d="M48.17,-30.00 L48.17,-29.48 L48.18,-28.96 L48.18,-28.44 L48.19,-27.92 L48.19,-27.55 L48.19,-27.39 L48.20,-26.87 L48.20,-26.35 L48.21,-25.83 L48.21,-25.31 L48.22,-25.11 L48.22,-24.79 L48.22,-24.27 L48.23,-23.75 L48.23,-23.23 L48.24,-22.71 L48.24,-22.66 L48.24,-22.18 L48.25,-21.66 L48.25,-21.14 L48.26,-20.62 L48.26,-20.21 L48.26,-20.10 L48.27,-19.58 L48.27,-19.06 L48.28,-18.54 L48.28,-18.02 L48.29,-17.77 L48.29,-17.50 L48.30,-16.97 L48.30,-16.45 L48.31,-15.93 L48.31,-15.41 L48.31,-15.32 L48.32,-14.89 L48.32,-14.37 L48.33,-13.85 L48.33,-13.33 L48.34,-12.88 L48.34,-12.81 L48.34,-12.29 L48.35,-11.76 L48.36,-11.24 L48.36,-10.72 L48.36,-10.43 L48.37,-10.20 L48.37,-9.68 L48.38,-9.16 L48.38,-8.64 L48.39,-8.12 L48.39,-7.98 L48.39,-7.60 L48.40,-7.08 L48.41,-6.55 L48.41,-6.03 L48.42,-5.54 L48.42,-5.51 L48.42,-4.99 L48.43,-4.47 L48.43,-3.95 L48.44,-3.43 L48.44,-3.09 L48.45,-2.91 L48.45,-2.39 L48.46,-1.87 L48.46,-1.34 L48.47,-0.82 L48.47,-0.64 L48.48,-0.30 L48.48,0.22 L48.49,0.74 L48.49,1.26 L48.50,1.78 L48.50,1.80 L48.51,2.30 L48.51,2.82 L48.52,3.34 L48.52,3.87 L48.53,4.25 L48.53,4.39 L48.54,4.91 L48.54,5.43 L48.55,5.95 L48.55,6.47 L48.56,6.69 L48.56,6.99 L48.57,7.51 L48.57,8.03 L48.58,8.55 L48.59,9.08 L48.59,9.14 L48.59,9.60 L48.60,10.12 L48.60,10.64 L48.61,11.16 L48.62,11.59 L48.62,11.68 L48.62,12.20 L48.63,12.72 L48.64,13.24 L48.64,13.76 L48.65,14.03 L48.65,14.29 L48.66,14.81 L48.66,15.33 L48.67,15.85 L48.68,16.37 L48.68,16.48 L48.68,16.89 L48.69,17.41 L48.70,17.93 L48.70,18.45 L48.71,18.93 L48.71,18.97 L48.72,19.50 L48.72,20.02 L48.73,20.54 L48.74,21.06 L48.74,21.37 L48.74,21.58 L48.75,22.10 L48.76,22.62 L48.76,23.14 L48.77,23.66 L48.77,23.82 L48.78,24.18 L48.78,24.71 L48.79,25.23 L48.80,25.75 L48.81,26.26 L48.81,26.27 L48.81,26.79 L48.82,27.31 L48.83,27.83 L48.83,28.35 L48.84,28.71 L48.84,28.87 L48.85,29.39 L48.86,29.92 L48.86,30.44 L48.87,30.96 L48.87,31.16 L48.88,31.48 L48.89,32.00 L48.89,32.52 L48.90,33.04 L48.91,33.56 L48.91,33.60 L48.92,34.08 L48.92,34.60 L48.93,35.13 L48.94,35.65 L48.95,36.05 L48.95,36.17 L48.96,36.69 L48.96,37.21 L48.97,37.73 L48.98,38.25 L48.98,38.49 L48.99,38.77 L48.99,39.29 L49.00,39.81 L49.01,40.34 L49.02,40.86 L49.02,40.94 L49.03,41.38 L49.03,41.90 L49.04,42.42 L49.05,42.94 L49.06,43.39 L49.06,43.46 L49.07,43.98 L49.08,44.50 L49.08,45.02 L49.09,45.55 L49.10,45.83 L49.10,46.07 L49.11,46.59 L49.12,47.11 L49.13,47.63 L49.13,48.15 L49.14,48.28 L49.14,48.67 L49.15,49.19 L49.16,49.71 L49.17,50.23 L49.18,50.73 L49.18,50.76 L49.19,51.28 L49.20,51.80 L49.20,52.32 L49.21,52.84 L49.22,53.17 L49.22,53.36 L49.23,53.88 L49.24,54.40 L49.25,54.92 L49.26,55.44 L49.26,55.62 L49.27,55.96 L49.28,56.49 L49.29,57.01 L49.29,57.53 L49.30,58.05 L49.30,58.06 L49.31,58.57 L49.32,59.09 L49.33,59.61 L49.34,60.13 L49.35,60.51 L49.35,60.65 L49.36,61.17 L49.37,61.70 L49.38,62.22 L49.39,62.74 L49.39,62.96 L49.40,63.26 L49.41,63.78 L49.42,64.30 L49.43,64.82 L49.44,65.34 L49.44,65.40 L49.45,65.86 L49.46,66.38 L49.47,66.90 L49.48,67.43 L49.49,67.85 L49.49,67.95 L49.50,68.47 L49.51,68.99 L49.52,69.51 L49.53,70.03 L49.54,70.29 L49.54,70.55 L49.55,71.07 L49.56,71.59 L49.57,72.11 L49.58,72.64 L49.58,72.74 L49.59,73.16 L49.60,73.68 L49.61,74.20 L49.63,74.72 L49.63,75.18 L49.64,75.24 L49.65,75.76 L49.66,76.28 L49.67,76.80 L49.68,77.32 L49.69,77.63 L49.69,77.84 L49.70,78.37 L49.71,78.89 L49.72,79.41 L49.74,79.93 L49.74,80.08 L49.75,80.45 L49.76,80.97 L49.77,81.49 L49.78,82.01 L49.79,82.52 L49.79,82.53 L49.80,83.05 L49.82,83.57 L49.83,84.10 L49.84,84.62 L49.85,84.97 L49.85,85.14 L49.86,85.66 L49.88,86.18 L49.89,86.70 L49.90,87.22 L49.91,87.41 L49.91,87.74 L49.93,88.26 L49.94,88.78 L49.95,89.30 L49.96,89.83 L49.96,89.86 L49.98,90.35 L49.99,90.87 L50.00,91.39 L50.02,91.91 L50.03,92.31 L50.03,92.43 L50.04,92.95 L50.05,93.47 L50.07,93.99 L50.08,94.51 L50.09,94.75 L50.10,95.03 L50.11,95.56 L50.12,96.08 L50.14,96.60 L50.15,97.12 L50.15,97.20 L50.16,97.64 L50.18,98.16 L50.19,98.68 L50.21,99.20 L50.22,99.64 L50.22,99.72 L50.24,100.24 L50.25,100.76 L50.27,101.28 L50.28,101.81 L50.29,102.09 L50.30,102.33 L50.31,102.85 L50.33,103.37 L50.34,103.89 L50.36,104.41 L50.36,104.53 L50.38,104.93 L50.39,105.45 L50.41,105.97 L50.42,106.49 L50.44,106.98 L50.44,107.01 L50.46,107.53 L50.47,108.05 L50.49,108.58 L50.51,109.10 L50.52,109.42 L50.53,109.62 L50.54,110.14 L50.56,110.66 L50.58,111.18 L50.60,111.70 L50.60,111.87 L50.61,112.22 L50.63,112.74 L50.65,113.26 L50.67,113.78 L50.69,114.30 L50.69,114.31 L50.71,114.82 L50.72,115.35 L50.74,115.87 L50.76,116.39 L50.78,116.76 L50.78,116.91 L50.80,117.43 L50.82,117.95 L50.84,118.47 L50.86,118.99 L50.87,119.20 L50.88,119.51 L50.90,120.03 L50.92,120.55 L50.94,121.07 L50.96,121.59 L50.96,121.65 L50.98,122.11 L51.00,122.63 L51.02,123.16 L51.04,123.68 L51.06,124.09 L51.06,124.20 L51.08,124.72 L51.11,125.24 L51.13,125.76 L51.15,126.28 L51.16,126.54 L51.17,126.80 L51.19,127.32 L51.21,127.84 L51.24,128.36 L51.26,128.88 L51.26,128.98 L51.28,129.40 L51.30,129.92 L51.33,130.44 L51.35,130.96 L51.37,131.42 L51.37,131.48 L51.40,132.00 L51.42,132.53 L51.45,133.05 L51.47,133.57 L51.49,133.87 L51.50,134.09 L51.52,134.61 L51.55,135.13 L51.58,135.65 L51.60,136.17 L51.61,136.31 L51.63,136.69 L51.66,137.21 L51.69,137.73 L51.71,138.25 L51.74,138.75 L51.74,138.77 L51.77,139.29 L51.80,139.81 L51.83,140.33 L51.86,140.85 L51.88,141.20 L51.89,141.37 L51.92,141.89 L51.95,142.41 L51.98,142.93 L52.01,143.45 L52.02,143.64 L52.05,143.97 L52.08,144.49 L52.11,145.01 L52.14,145.53 L52.18,146.05 L52.18,146.08 L52.21,146.57 L52.25,147.09 L52.29,147.61 L52.32,148.13 L52.35,148.52 L52.36,148.65 L52.40,149.17 L52.44,149.69 L52.48,150.21 L52.52,150.73 L52.53,150.96 L52.56,151.25 L52.60,151.77 L52.64,152.29 L52.68,152.81 L52.72,153.33 L52.73,153.40 L52.77,153.85 L52.81,154.36 L52.85,154.88 L52.90,155.40 L52.94,155.84 L52.94,155.92 L52.99,156.44 L53.04,156.96 L53.08,157.48 L53.13,158.00 L53.16,158.28 L53.18,158.52 L53.23,159.04 L53.28,159.56 L53.33,160.07 L53.39,160.59 L53.40,160.71 L53.44,161.11 L53.49,161.63 L53.55,162.15 L53.61,162.67 L53.66,163.14 L53.66,163.18 L53.72,163.70 L53.78,164.22 L53.84,164.73 L53.90,165.25 L53.94,165.57 L53.96,165.77 L54.03,166.29 L54.09,166.80 L54.16,167.32 L54.24,167.84 L54.26,168.00 L54.31,168.35 L54.39,168.87 L54.46,169.38 L54.54,169.90 L54.63,170.41 L54.63,170.42 L54.71,170.93 L54.80,171.44 L54.89,171.95 L54.99,172.46 L55.05,172.82 L55.08,172.98 L55.19,173.49 L55.30,174.00 L55.41,174.51 L55.53,175.02 L55.57,175.22 L55.65,175.52 L55.77,176.03 L55.90,176.53 L56.03,177.04 L56.17,177.54 L56.18,177.59 L56.31,178.04 L56.46,178.54 L56.62,179.04 L56.78,179.54 L56.91,179.93 L56.94,180.03 L57.11,180.53 L57.29,181.02 L57.47,181.51 L57.66,181.99 L57.76,182.22 L57.86,182.47 L58.06,182.95 L58.28,183.42 L58.50,183.90 L58.72,184.38 L58.77,184.46 L58.96,184.85 L59.21,185.31 L59.46,185.77 L59.72,186.22 L59.95,186.61 L59.99,186.67 L60.27,187.10 L60.55,187.52 L60.85,187.95 L61.17,188.39 L61.35,188.63 L61.49,188.81 L61.83,189.23 L62.19,189.64 L62.55,190.02 L62.93,190.37 L63.03,190.46 L63.31,190.69 L63.71,190.98 L64.14,191.25 L64.58,191.51 L65.03,191.75 L65.05,191.76 L65.53,192.00 L66.02,192.23 L66.52,192.43 L67.02,192.60 L67.35,192.70 L67.53,192.75 L68.03,192.87 L68.53,192.96 L69.03,193.04 L69.54,193.11 L69.72,193.14 L70.05,193.18 L70.56,193.25 L71.08,193.31 L71.60,193.37 L72.13,193.42 L72.15,193.42 L72.65,193.47 L73.18,193.51 L73.70,193.55 L74.23,193.58 L74.62,193.60 L74.75,193.61 L75.28,193.63 L75.80,193.65 L76.32,193.67 L76.84,193.68 L77.07,193.69 L77.36,193.70 L77.88,193.71 L78.40,193.73 L78.92,193.74 L79.44,193.76 L79.51,193.76 L79.96,193.77 L80.48,193.78 L81.00,193.79 L81.52,193.80 L81.96,193.81 L82.05,193.82 L82.57,193.83 L83.09,193.84 L83.61,193.84 L84.13,193.85 L84.40,193.86 L84.65,193.86 L85.17,193.87 L85.69,193.87 L86.22,193.88 L86.74,193.89 L86.85,193.89 L87.26,193.89 L87.78,193.89 L88.30,193.90 L88.82,193.90 L89.30,193.90 L89.34,193.90 L89.86,193.90 L90.39,193.90 L90.91,193.90 L91.43,193.90 L91.74,193.90 L91.95,193.90 L92.47,193.90 L92.99,193.90 L93.51,193.90 L94.03,193.90 L94.19,193.90 L94.55,193.90 L95.07,193.90 L95.60,193.90 L96.12,193.90 L96.64,193.90 L96.64,193.90 L97.16,193.90 L97.68,193.90 L98.20,193.90 L98.72,193.90 L99.08,193.90 L99.24,193.90 L99.76,193.90 L101.53,193.90 L103.98,193.90 L106.42,193.90 L108.87,193.90 L111.31,193.90 L113.76,193.90 L116.21,193.90 L118.65,193.90 L121.10,193.90 L123.55,193.90 L125.99,193.90 L128.44,193.90 L130.89,193.90 L133.33,193.90 L135.78,193.90 L138.23,193.90 L140.67,193.90 L143.12,193.90 L145.56,193.90 L148.01,193.90 L150.46,193.90 L152.90,193.90 L155.35,193.90 L157.80,193.90 L160.24,193.90 L162.69,193.90 L165.14,193.90 L167.58,193.90 L170.03,193.90 L172.48,193.90 L174.92,193.90 L177.37,193.90 L179.82,193.90 L182.26,193.90 L184.71,193.90 L187.15,193.90 L189.60,193.90 L192.05,193.90 L194.49,193.90 L196.94,193.90 L199.39,193.90 L201.83,193.90 L204.28,193.90 L206.73,193.90 L209.17,193.90 L211.62,193.90 L214.07,193.90 L216.51,193.90 L218.96,193.90 L221.40,193.90 L223.85,193.90 L226.30,193.90 L228.74,193.90 L231.19,193.90 L233.64,193.90 L236.08,193.90 L238.53,193.90 L240.98,193.90 L243.42,193.90 L245.87,193.90 L248.31,193.90 L250.76,193.90 L253.21,193.90 L255.65,193.90 L258.10,193.90 L260.55,193.90 L262.99,193.90 L265.44,193.90 L267.89,193.90 L270.33,193.90 L272.78,193.90 L275.23,193.90 L277.67,193.90 L280.12,193.90 L282.56,193.90 L285.01,193.90 L287.46,193.90 L289.90,193.90 L292.35,193.90 L294.80,193.90 L297.24,193.90 L299.69,193.90 L302.14,193.90 L304.58,193.90 L307.03,193.90 L309.48,193.90 L311.92,193.90 L314.37,193.90 L316.81,193.90 L319.26,193.90 L321.71,193.90 L324.15,193.90 L326.60,193.90" stroke="#ff00ff" stroke-width="1.6"/><path d="M47.50,-30.00 L47.51,-29.48 L47.51,-28.96 L47.52,-28.44 L47.53,-27.92 L47.53,-27.59 L47.53,-27.39 L47.54,-26.87 L47.55,-26.35 L47.55,-25.83 L47.56,-25.31 L47.56,-25.18 L47.57,-24.79 L47.57,-24.27 L47.58,-23.75 L47.59,-23.23 L47.59,-22.76 L47.60,-22.71 L47.60,-22.18 L47.61,-21.66 L47.62,-21.14 L47.62,-20.62 L47.63,-20.35 L47.63,-20.10 L47.64,-19.58 L47.65,-19.06 L47.65,-18.54 L47.66,-18.02 L47.66,-17.94 L47.67,-17.50 L47.68,-16.98 L47.68,-16.45 L47.69,-15.93 L47.70,-15.53 L47.70,-15.41 L47.71,-14.89 L47.72,-14.37 L47.72,-13.85 L47.73,-13.33 L47.73,-13.11 L47.74,-12.81 L47.75,-12.29 L47.76,-11.77 L47.76,-11.24 L47.77,-10.72 L47.77,-10.70 L47.78,-10.20 L47.79,-9.68 L47.80,-9.16 L47.81,-8.64 L47.81,-8.29 L47.81,-8.12 L47.82,-7.60 L47.83,-7.08 L47.84,-6.56 L47.85,-6.03 L47.85,-5.88 L47.86,-5.51 L47.86,-4.99 L47.87,-4.47 L47.88,-3.95 L47.89,-3.46 L47.89,-3.43 L47.90,-2.91 L47.91,-2.39 L47.92,-1.87 L47.93,-1.35 L47.93,-1.05 L47.93,-0.82 L47.94,-0.30 L47.95,0.22 L47.96,0.74 L47.97,1.26 L47.97,1.36 L47.98,1.78 L47.99,2.30 L48.00,2.82 L48.01,3.34 L48.01,3.77 L48.02,3.86 L48.02,4.38 L48.03,4.91 L48.04,5.43 L48.05,5.95 L48.06,6.18 L48.06,6.47 L48.07,6.99 L48.08,7.51 L48.09,8.03 L48.10,8.55 L48.10,8.60 L48.11,9.07 L48.12,9.59 L48.13,10.12 L48.14,10.64 L48.14,11.01 L48.15,11.16 L48.16,11.68 L48.17,12.20 L48.18,12.72 L48.19,13.24 L48.19,13.42 L48.20,13.76 L48.21,14.28 L48.22,14.80 L48.23,15.32 L48.24,15.83 L48.24,15.85 L48.25,16.37 L48.26,16.89 L48.27,17.41 L48.28,17.93 L48.28,18.24 L48.29,18.45 L48.30,18.97 L48.31,19.49 L48.32,20.01 L48.33,20.53 L48.33,20.66 L48.34,21.06 L48.35,21.58 L48.36,22.10 L48.37,22.62 L48.38,23.07 L48.38,23.14 L48.40,23.66 L48.41,24.18 L48.42,24.70 L48.43,25.22 L48.43,25.48 L48.44,25.74 L48.45,26.26 L48.46,26.79 L48.47,27.31 L48.49,27.83 L48.49,27.89 L48.50,28.35 L48.51,28.87 L48.52,29.39 L48.53,29.91 L48.54,30.30 L48.54,30.43 L48.56,30.95 L48.57,31.47 L48.58,31.99 L48.59,32.52 L48.60,32.72 L48.61,33.04 L48.62,33.56 L48.63,34.08 L48.64,34.60 L48.65,35.12 L48.65,35.13 L48.67,35.64 L48.68,36.16 L48.69,36.68 L48.70,37.20 L48.71,37.54 L48.72,37.72 L48.73,38.25 L48.74,38.77 L48.76,39.29 L48.77,39.81 L48.77,39.95 L48.78,40.33 L48.80,40.85 L48.81,41.37 L48.82,41.89 L48.84,42.36 L48.84,42.41 L48.85,42.93 L48.86,43.45 L48.88,43.97 L48.89,44.50 L48.90,44.78 L48.90,45.02 L48.92,45.54 L48.93,46.06 L48.95,46.58 L48.96,47.10 L48.96,47.19 L48.98,47.62 L48.99,48.14 L49.00,48.66 L49.02,49.18 L49.03,49.60 L49.03,49.70 L49.05,50.22 L49.06,50.75 L49.08,51.27 L49.09,51.79 L49.10,52.01 L49.11,52.31 L49.12,52.83 L49.14,53.35 L49.15,53.87 L49.17,54.39 L49.17,54.42 L49.18,54.91 L49.20,55.43 L49.22,55.95 L49.23,56.47 L49.24,56.83 L49.25,57.00 L49.26,57.52 L49.28,58.04 L49.29,58.56 L49.31,59.08 L49.32,59.24 L49.33,59.60 L49.34,60.12 L49.36,60.64 L49.38,61.16 L49.39,61.66 L49.39,61.68 L49.41,62.20 L49.43,62.72 L49.44,63.25 L49.46,63.77 L49.47,64.07 L49.48,64.29 L49.49,64.81 L49.51,65.33 L49.53,65.85 L49.55,66.37 L49.55,66.48 L49.56,66.89 L49.58,67.41 L49.60,67.93 L49.62,68.45 L49.63,68.89 L49.63,68.97 L49.65,69.49 L49.67,70.01 L49.69,70.54 L49.71,71.06 L49.71,71.30 L49.72,71.58 L49.74,72.10 L49.76,72.62 L49.78,73.14 L49.80,73.66 L49.80,73.71 L49.82,74.18 L49.84,74.70 L49.86,75.22 L49.87,75.74 L49.89,76.12 L49.89,76.26 L49.91,76.78 L49.93,77.30 L49.95,77.83 L49.97,78.35 L49.98,78.53 L49.99,78.87 L50.01,79.39 L50.03,79.91 L50.05,80.43 L50.07,80.94 L50.07,80.95 L50.09,81.47 L50.11,81.99 L50.13,82.51 L50.16,83.03 L50.17,83.36 L50.18,83.55 L50.20,84.07 L50.22,84.59 L50.24,85.11 L50.26,85.64 L50.27,85.77 L50.28,86.16 L50.30,86.68 L50.33,87.20 L50.35,87.72 L50.37,88.18 L50.37,88.24 L50.39,88.76 L50.41,89.28 L50.44,89.80 L50.46,90.32 L50.47,90.59 L50.48,90.84 L50.51,91.36 L50.53,91.88 L50.55,92.40 L50.57,92.92 L50.58,93.00 L50.60,93.44 L50.62,93.96 L50.64,94.48 L50.67,95.01 L50.69,95.41 L50.69,95.53 L50.72,96.05 L50.74,96.57 L50.76,97.09 L50.79,97.61 L50.80,97.82 L50.81,98.13 L50.84,98.65 L50.86,99.17 L50.89,99.69 L50.91,100.21 L50.91,100.23 L50.93,100.73 L50.96,101.25 L50.98,101.77 L51.01,102.29 L51.03,102.64 L51.03,102.81 L51.06,103.33 L51.08,103.85 L51.11,104.37 L51.14,104.89 L51.14,105.05 L51.16,105.41 L51.19,105.94 L51.21,106.46 L51.24,106.98 L51.26,107.46 L51.26,107.50 L51.29,108.02 L51.32,108.54 L51.34,109.06 L51.37,109.58 L51.38,109.87 L51.40,110.10 L51.42,110.62 L51.45,111.14 L51.48,111.66 L51.50,112.18 L51.51,112.28 L51.53,112.70 L51.56,113.22 L51.59,113.74 L51.62,114.26 L51.64,114.69 L51.65,114.78 L51.68,115.30 L51.70,115.82 L51.73,116.34 L51.76,116.86 L51.78,117.10 L51.79,117.38 L51.83,117.91 L51.86,118.43 L51.89,118.95 L51.92,119.47 L51.92,119.50 L51.95,119.99 L51.98,120.51 L52.02,121.03 L52.05,121.55 L52.07,121.91 L52.08,122.07 L52.12,122.59 L52.15,123.10 L52.19,123.62 L52.22,124.14 L52.23,124.32 L52.26,124.66 L52.29,125.18 L52.33,125.70 L52.37,126.22 L52.41,126.72 L52.41,126.74 L52.44,127.26 L52.48,127.78 L52.52,128.30 L52.56,128.82 L52.59,129.13 L52.61,129.34 L52.65,129.86 L52.70,130.38 L52.75,130.89 L52.80,131.41 L52.81,131.53 L52.85,131.93 L52.90,132.45 L52.96,132.97 L53.01,133.49 L53.06,133.93 L53.07,134.00 L53.12,134.52 L53.18,135.04 L53.24,135.56 L53.29,136.08 L53.32,136.33 L53.35,136.60 L53.40,137.11 L53.46,137.63 L53.51,138.15 L53.57,138.67 L53.57,138.73 L53.62,139.19 L53.67,139.71 L53.72,140.22 L53.77,140.74 L53.81,141.13 L53.82,141.26 L53.87,141.78 L53.91,142.30 L53.96,142.82 L54.01,143.34 L54.02,143.53 L54.05,143.86 L54.10,144.38 L54.15,144.90 L54.19,145.41 L54.24,145.93 L54.24,145.94 L54.29,146.45 L54.34,146.97 L54.39,147.49 L54.44,148.01 L54.47,148.34 L54.49,148.53 L54.55,149.04 L54.60,149.56 L54.66,150.08 L54.72,150.60 L54.73,150.73 L54.78,151.11 L54.83,151.63 L54.89,152.15 L54.95,152.67 L55.01,153.14 L55.01,153.19 L55.07,153.71 L55.14,154.23 L55.20,154.75 L55.26,155.27 L55.30,155.54 L55.33,155.79 L55.39,156.31 L55.46,156.82 L55.53,157.34 L55.60,157.86 L55.61,157.94 L55.67,158.38 L55.75,158.90 L55.82,159.41 L55.90,159.93 L55.96,160.33 L55.98,160.44 L56.06,160.96 L56.14,161.47 L56.23,161.98 L56.32,162.49 L56.36,162.71 L56.41,163.00 L56.51,163.51 L56.60,164.02 L56.70,164.53 L56.81,165.04 L56.81,165.06 L56.92,165.54 L57.04,166.04 L57.18,166.54 L57.32,167.04 L57.42,167.38 L57.47,167.54 L57.63,168.04 L57.79,168.54 L57.96,169.03 L58.13,169.53 L58.18,169.68 L58.30,170.02 L58.48,170.52 L58.65,171.01 L58.83,171.50 L58.99,171.96 L59.00,171.99 L59.17,172.49 L59.34,172.98 L59.52,173.47 L59.70,173.96 L59.81,174.23 L59.89,174.44 L60.07,174.93 L60.26,175.42 L60.45,175.90 L60.65,176.38 L60.69,176.48 L60.84,176.87 L61.04,177.35 L61.25,177.83 L61.45,178.31 L61.63,178.70 L61.67,178.78 L61.89,179.26 L62.11,179.73 L62.35,180.19 L62.59,180.65 L62.71,180.86 L62.85,181.11 L63.11,181.56 L63.39,181.99 L63.68,182.42 L63.98,182.86 L64.01,182.90 L64.29,183.30 L64.60,183.73 L64.92,184.16 L65.24,184.59 L65.48,184.89 L65.58,185.00 L65.92,185.41 L66.28,185.79 L66.64,186.16 L67.01,186.51 L67.14,186.63 L67.39,186.83 L67.78,187.13 L68.18,187.42 L68.61,187.70 L69.04,187.97 L69.05,187.97 L69.51,188.24 L69.97,188.49 L70.45,188.74 L70.93,188.97 L71.23,189.11 L71.42,189.19 L71.91,189.40 L72.41,189.59 L72.90,189.77 L73.39,189.94 L73.51,189.97 L73.88,190.08 L74.37,190.22 L74.87,190.36 L75.38,190.49 L75.82,190.59 L75.88,190.61 L76.39,190.73 L76.91,190.84 L77.42,190.94 L77.94,191.04 L78.20,191.09 L78.46,191.13 L78.97,191.22 L79.49,191.30 L80.01,191.37 L80.52,191.44 L80.59,191.45 L81.04,191.51 L81.55,191.58 L82.07,191.64 L82.59,191.70 L82.98,191.74 L83.10,191.75 L83.62,191.81 L84.14,191.86 L84.66,191.91 L85.18,191.96 L85.38,191.98 L85.70,192.01 L86.22,192.06 L86.74,192.10 L87.26,192.14 L87.78,192.19 L87.79,192.19 L88.30,192.23 L88.82,192.26 L89.34,192.30 L89.86,192.34 L90.20,192.36 L90.38,192.38 L90.90,192.41 L91.42,192.45 L91.94,192.48 L92.46,192.51 L92.60,192.52 L92.98,192.54 L93.50,192.58 L94.02,192.61 L94.54,192.63 L95.01,192.66 L95.06,192.66 L95.58,192.69 L96.10,192.72 L96.62,192.74 L97.14,192.77 L97.42,192.78 L97.66,192.80 L98.18,192.82 L98.70,192.84 L99.22,192.87 L99.74,192.89 L99.83,192.89 L100.26,192.91 L100.78,192.93 L101.30,192.95 L101.83,192.98 L102.24,192.99 L102.35,193.00 L102.87,193.02 L103.39,193.04 L103.91,193.06 L104.43,193.08 L104.65,193.08 L104.95,193.10 L105.47,193.11 L105.99,193.13 L106.51,193.15 L107.07,193.17 L109.48,193.25 L111.89,193.32 L114.30,193.38 L116.71,193.44 L119.12,193.49 L121.54,193.54 L123.95,193.59 L126.36,193.63 L128.77,193.67 L131.19,193.71 L133.60,193.74 L136.01,193.76 L138.42,193.78 L140.83,193.80 L143.25,193.82 L145.66,193.84 L148.07,193.86 L150.48,193.87 L152.90,193.88 L155.31,193.89 L157.72,193.90 L160.13,193.90 L162.55,193.90 L164.96,193.90 L167.37,193.90 L169.78,193.90 L172.20,193.90 L174.61,193.90 L177.02,193.90 L179.43,193.90 L181.85,193.90 L184.26,193.90 L186.67,193.90 L189.09,193.90 L191.50,193.90 L193.91,193.90 L196.32,193.90 L198.74,193.90 L201.15,193.90 L203.56,193.90 L205.97,193.90 L208.39,193.90 L210.80,193.90 L213.21,193.90 L215.62,193.90 L218.04,193.90 L220.45,193.90 L222.86,193.90 L225.27,193.90 L227.69,193.90 L230.10,193.90 L232.51,193.90 L234.92,193.90 L237.34,193.90 L239.75,193.90 L242.16,193.90 L244.57,193.90 L246.99,193.90 L249.40,193.90 L251.81,193.90 L254.22,193.90 L256.64,193.90 L259.05,193.90 L261.46,193.90 L263.87,193.90 L266.29,193.90 L268.70,193.90 L271.11,193.90 L273.52,193.90 L275.94,193.90 L278.35,193.90 L280.76,193.90 L283.17,193.90 L285.59,193.90 L288.00,193.90 L290.41,193.90 L292.82,193.90 L295.24,193.90 L297.65,193.90 L300.06,193.90 L302.47,193.90 L304.89,193.90 L307.30,193.90 L309.71,193.90 L312.12,193.90 L314.54,193.90 L316.95,193.90 L319.36,193.90 L321.77,193.90 L324.19,193.90 L326.60,193.90" stroke="#800080" stroke-width="1.6" stroke-opacity="0.65" clip-path="url(#cp2)"/></g><path d="M325.50,8.60V193.80" stroke="#808080" stroke-width="0.75" fill="none"/><path d="M54.81,194.00v-2.10M62.77,194.00v-2.10M70.73,194.00v-2.10M78.69,194.00v-2.10M86.65,194.00v-3.90M94.61,194.00v-2.10M102.57,194.00v-2.10M110.53,194.00v-2.10M118.49,194.00v-2.10M126.45,194.00v-3.90M134.41,194.00v-2.10M142.37,194.00v-2.10M150.33,194.00v-2.10M158.29,194.00v-2.10M166.25,194.00v-3.90M174.21,194.00v-2.10M182.17,194.00v-2.10M190.13,194.00v-2.10M198.09,194.00v-2.10M206.05,194.00v-3.90M214.01,194.00v-2.10M221.97,194.00v-2.10M229.93,194.00v-2.10M237.89,194.00v-2.10M245.85,194.00v-3.90M253.81,194.00v-2.10M261.77,194.00v-2.10M269.73,194.00v-2.10M277.69,194.00v-2.10M285.65,194.00v-3.90M293.61,194.00v-2.10M301.57,194.00v-2.10M309.53,194.00v-2.10M317.49,194.00v-2.10M46.85,194.20h3.90M325.70,194.20h-3.90M46.85,184.94h2.10M325.70,184.94h-2.10M46.85,175.67h2.10M325.70,175.67h-2.10M46.85,166.40h2.10M325.70,166.40h-2.10M46.85,157.14h3.90M325.70,157.14h-3.90M46.85,147.88h2.10M325.70,147.88h-2.10M46.85,138.61h2.10M325.70,138.61h-2.10M46.85,129.34h2.10M325.70,129.34h-2.10M46.85,120.08h3.90M325.70,120.08h-3.90M46.85,110.81h2.10M325.70,110.81h-2.10M46.85,101.55h2.10M325.70,101.55h-2.10M46.85,92.28h2.10M325.70,92.28h-2.10M46.85,83.02h3.90M325.70,83.02h-3.90M46.85,73.75h2.10M325.70,73.75h-2.10M46.85,64.49h2.10M325.70,64.49h-2.10M46.85,55.22h2.10M325.70,55.22h-2.10M46.85,45.96h3.90M325.70,45.96h-3.90M46.85,36.69h2.10M325.70,36.69h-2.10M46.85,27.43h2.10M325.70,27.43h-2.10M46.85,18.16h2.10M325.70,18.16h-2.10M46.85,8.90h3.90M325.70,8.90h-3.90" stroke="#686868" stroke-width="0.9" fill="none"/><path d="M54.81,8.40v2.70M62.77,8.40v2.70M70.73,8.40v2.70M78.69,8.40v2.70M86.65,8.40v4.50M94.61,8.40v2.70M102.57,8.40v2.70M110.53,8.40v2.70M118.49,8.40v2.70M126.45,8.40v4.50M134.41,8.40v2.70M142.37,8.40v2.70M150.33,8.40v2.70M158.29,8.40v2.70M166.25,8.40v4.50M174.21,8.40v2.70M182.17,8.40v2.70M190.13,8.40v2.70M198.09,8.40v2.70M206.05,8.40v4.50M214.01,8.40v2.70M221.97,8.40v2.70M229.93,8.40v2.70M237.89,8.40v2.70M245.85,8.40v4.50M253.81,8.40v2.70M261.77,8.40v2.70M269.73,8.40v2.70M277.69,8.40v2.70M285.65,8.40v4.50M293.61,8.40v2.70M301.57,8.40v2.70M309.53,8.40v2.70M317.49,8.40v2.70" stroke="#777" stroke-width="0.8" fill="none"/><g font-family="Liberation Sans, sans-serif" font-size="10.2" fill="#000" stroke="#000" stroke-width="0.1" style="font-kerning:none"><text transform="translate(46.40,205.0) scale(0.84,1)" text-anchor="middle">0</text><text transform="translate(86.20,205.0) scale(0.84,1)" text-anchor="middle">5</text><text transform="translate(126.00,205.0) scale(0.84,1)" text-anchor="middle">10</text><g transform="translate(126.00,205.0) scale(0.84,1)"><rect x="-5.796" y="-0.892" width="2.688" height="1.462" fill="#fff" stroke="none"/><rect x="-2.206" y="-0.892" width="2.308" height="1.462" fill="#fff" stroke="none"/></g><text transform="translate(165.80,205.0) scale(0.84,1)" text-anchor="middle">15</text><g transform="translate(165.80,205.0) scale(0.84,1)"><rect x="-5.796" y="-0.892" width="2.688" height="1.462" fill="#fff" stroke="none"/><rect x="-2.206" y="-0.892" width="2.308" height="1.462" fill="#fff" stroke="none"/></g><text transform="translate(205.60,205.0) scale(0.84,1)" text-anchor="middle">20</text><text transform="translate(245.40,205.0) scale(0.84,1)" text-anchor="middle">25</text><text transform="translate(285.20,205.0) scale(0.84,1)" text-anchor="middle">30</text><text transform="translate(325.00,205.0) scale(0.84,1)" text-anchor="middle">35</text><text transform="translate(43.5,197.45) scale(0.84,1)" text-anchor="end">0.0</text><text transform="translate(43.5,160.38) scale(0.84,1)" text-anchor="end">0.2</text><text transform="translate(43.5,123.06) scale(0.84,1)" text-anchor="end">0.4</text><text transform="translate(43.5,86.14) scale(0.84,1)" text-anchor="end">0.6</text><text transform="translate(43.5,49.47) scale(0.84,1)" text-anchor="end">0.8</text><text transform="translate(43.5,11.90) scale(0.84,1)" text-anchor="end">1.0</text><g transform="translate(43.5,11.90) scale(0.84,1)"><rect x="-14.302" y="-0.892" width="2.688" height="1.462" fill="#fff" stroke="none"/><rect x="-10.713" y="-0.892" width="2.308" height="1.462" fill="#fff" stroke="none"/></g></g><text x="184.3" y="29.9" text-anchor="middle" font-family="Liberation Serif, serif" font-weight="bold" font-size="18.4" fill="#000">(b)</text><path d="M346.7,53.90H365.6" stroke="#ff0000" stroke-width="1.5"/><text transform="translate(372.2,56.50) scale(0.965,1)" style="font-kerning:none" font-family="Liberation Sans, sans-serif" font-weight="bold" font-size="12.2" fill="#000" stroke="#000" stroke-width="0.12"><tspan font-style="italic">n</tspan><tspan font-size="8.3" dy="2.3" stroke="#000" stroke-width="0.25">th</tspan><tspan dy="-2.3">=15</tspan></text><g transform="translate(372.2,56.50) scale(0.965,1)"><rect x="22.279" y="-1.375" width="2.979" height="1.945" fill="#fff" stroke="none"/><rect x="26.932" y="-1.375" width="2.524" height="1.945" fill="#fff" stroke="none"/></g><path d="M346.7,76.60H365.6" stroke="#0000ff" stroke-width="1.5"/><text transform="translate(372.2,79.20) scale(0.965,1)" style="font-kerning:none" font-family="Liberation Sans, sans-serif" font-weight="bold" font-size="12.2" fill="#000" stroke="#000" stroke-width="0.12"><tspan font-style="italic">n</tspan><tspan font-size="8.3" dy="2.3" stroke="#000" stroke-width="0.25">th</tspan><tspan dy="-2.3">=17</tspan></text><g transform="translate(372.2,79.20) scale(0.965,1)"><rect x="22.279" y="-1.375" width="2.979" height="1.945" fill="#fff" stroke="none"/><rect x="26.932" y="-1.375" width="2.524" height="1.945" fill="#fff" stroke="none"/></g><path d="M346.7,99.30H365.6" stroke="#00ff00" stroke-width="1.5"/><text transform="translate(372.2,101.90) scale(0.965,1)" style="font-kerning:none" font-family="Liberation Sans, sans-serif" font-weight="bold" font-size="12.2" fill="#000" stroke="#000" stroke-width="0.12"><tspan font-style="italic">n</tspan><tspan font-size="8.3" dy="2.3" stroke="#000" stroke-width="0.25">th</tspan><tspan dy="-2.3">=19</tspan></text><g transform="translate(372.2,101.90) scale(0.965,1)"><rect x="22.279" y="-1.375" width="2.979" height="1.945" fill="#fff" stroke="none"/><rect x="26.932" y="-1.375" width="2.524" height="1.945" fill="#fff" stroke="none"/></g><path d="M346.7,122.00H365.6" stroke="#ffff00" stroke-width="1.5"/><text transform="translate(372.2,124.60) scale(0.965,1)" style="font-kerning:none" font-family="Liberation Sans, sans-serif" font-weight="bold" font-size="12.2" fill="#000" stroke="#000" stroke-width="0.12"><tspan font-style="italic">n</tspan><tspan font-size="8.3" dy="2.3" stroke="#000" stroke-width="0.25">th</tspan><tspan dy="-2.3">=21</tspan></text><g transform="translate(372.2,124.60) scale(0.965,1)"><rect x="29.064" y="-1.375" width="2.979" height="1.945" fill="#fff" stroke="none"/><rect x="33.717" y="-1.375" width="2.524" height="1.945" fill="#fff" stroke="none"/></g><path d="M346.7,144.70H365.6" stroke="#ff8000" stroke-width="1.5"/><text transform="translate(372.2,147.30) scale(0.965,1)" style="font-kerning:none" font-family="Liberation Sans, sans-serif" font-weight="bold" font-size="12.2" fill="#000" stroke="#000" stroke-width="0.12"><tspan font-style="italic">n</tspan><tspan font-size="8.3" dy="2.3" stroke="#000" stroke-width="0.25">th</tspan><tspan dy="-2.3">=40</tspan></text><path d="M346.7,167.40H365.6" stroke="#800080" stroke-width="1.5"/><text transform="translate(372.2,170.00) scale(0.965,1)" style="font-kerning:none" font-family="Liberation Sans, sans-serif" font-weight="bold" font-size="12.2" fill="#000" stroke="#000" stroke-width="0.12"><tspan font-style="italic">n</tspan><tspan font-size="8.3" dy="2.3" stroke="#000" stroke-width="0.25">th</tspan><tspan dy="-2.3">=50</tspan></text><path d="M346.7,190.10H365.6" stroke="#ff00ff" stroke-width="1.5"/><text transform="translate(372.2,192.70) scale(0.965,1)" style="font-kerning:none" font-family="Liberation Sans, sans-serif" font-weight="bold" font-size="12.2" fill="#000" stroke="#000" stroke-width="0.12"><tspan font-style="italic">n</tspan><tspan font-size="8.3" dy="2.3" stroke="#000" stroke-width="0.25">th</tspan><tspan dy="-2.3">=60</tspan></text><path d="M193.1,224.3 C194.6,222.6 194.8,219.4 191.6,218.9 C187.5,218.4 182.6,223.8 180.3,228.4 C178.2,232.6 179.2,235.3 182.6,235.2 C186.2,235.1 189.4,232.3 190.1,229.6" fill="none" stroke="#000" stroke-width="2.4" stroke-linecap="round" transform="translate(186.6,227.1) scale(0.955) translate(-186.6,-227.1)"/><path d="M8.5,105.7 C8.0,105.3 6.4,105.4 6.4,108.0 L6.4,111.0 C6.4,113.4 7.4,114.3 8.8,114.3 C10.2,114.3 11.1,113.2 11.1,111.0 L11.1,107.5" fill="none" stroke="#000" stroke-width="2.0" stroke-linecap="round" stroke-linejoin="round"/><path d="M5.5,111.5 C5.7,114.4 7.2,115.4 8.8,115.4 C10.4,115.4 11.9,114.4 12.1,111.5 L10,111.5 C10,112.6 9.6,113.0 8.8,113.0 C8.0,113.0 7.6,112.6 7.5,111.5 Z" fill="#000"/><path fill-rule="evenodd" fill="#000" d="M12.2,111.15 A4.3,7.15 0 1 0 20.8,111.15 A4.3,7.15 0 1 0 12.2,111.15 Z M14.5,110.6 A2.25,4.0 0 1 1 19.0,110.6 A2.25,4.0 0 1 1 14.5,110.6 Z"/><g transform="translate(22,120) rotate(-90)" font-family="Liberation Sans, sans-serif" font-weight="bold" fill="#000" font-size="13"><text transform="translate(18.2,2.8) scale(0.82,1)" font-size="14.2">2</text><text transform="translate(17.4,-13.9) scale(1.0,1)" letter-spacing="0.5">op</text></g></svg></div></body></html>
